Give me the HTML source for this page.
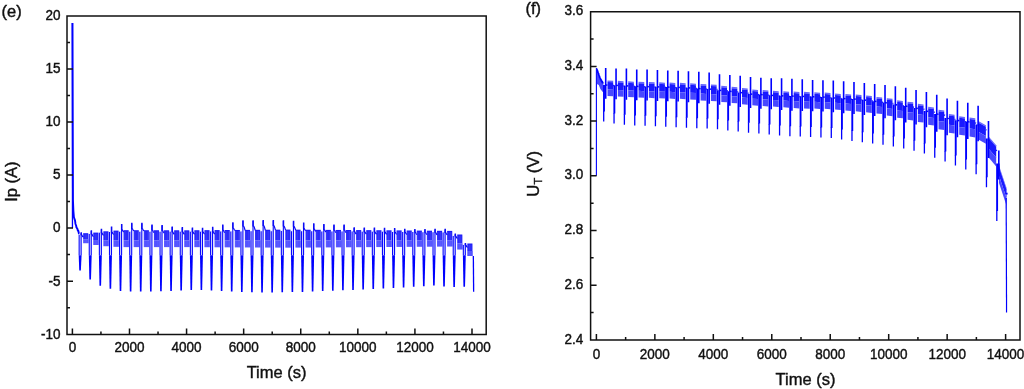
<!DOCTYPE html><html><head><meta charset="utf-8"><style>html,body{margin:0;padding:0;background:#fff;}svg{display:block;}text{font-family:"Liberation Sans",sans-serif;fill:#111;stroke:#111;stroke-width:0.4px;}</style></head><body>
<svg width="1024" height="389" viewBox="0 0 1024 389" style="will-change:transform">
<defs><clipPath id="cl"><rect x="67" y="15.95" width="419.2" height="318.45"/></clipPath>
<clipPath id="cr"><rect x="590.6" y="11.7" width="429.4" height="328.4"/></clipPath></defs>
<g clip-path="url(#cl)">
<path d="M72.45 228.1L72.45 23" fill="none" stroke="#0000ff" stroke-width="1.3" stroke-linejoin="round"/>
<path d="M72.45 23L72.95 200L73.4 211L73.9 217.3L75 220.4L75.5 224L76.1 225.5L76.5 227.5L77.3 228.6L77.8 230.5L78.3 230.7L78.9 233.5L79.4 233.8" fill="none" stroke="#0000ff" stroke-width="1.9" stroke-linejoin="round"/>
<rect x="83.15" y="233.2" width="5.1" height="6" fill="#1a1af8"/>
<rect x="83.15" y="239.2" width="5.4" height="4" fill="#4c4cff"/>
<path d="M83.85 234.2V239.2M85.25 234.2V239.2M86.65 234.2V239.2M88.05 234.2V239.2" stroke="#8080ff" stroke-width="0.3" fill="none"/>
<path d="M83.85 239.2V243.2M85.25 239.2V243.2M86.65 239.2V243.2M88.05 239.2V243.2" stroke="#8080ff" stroke-width="0.3" fill="none"/>
<rect x="79.15" y="234.2" width="2" height="20.95" fill="#e0e0ff"/>
<path d="M79.15 234.7L79.15 255.15" fill="none" stroke="#0808ff" stroke-width="1.1" stroke-linejoin="round"/>
<path d="M81.15 255.15L81.15 232.9" fill="none" stroke="#0808ff" stroke-width="1.1" stroke-linejoin="round"/>
<path d="M78.7 255.15L81.6 255.15L80.85 270.4L79.25 270.4Z" fill="#0000ff"/>
<path d="M81.25 232.2L81.25 235.2" fill="none" stroke="#0a0af4" stroke-width="1.5" stroke-linejoin="round"/>
<path d="M81.75 234.7L82.55 236.4L83.35 237.2" fill="none" stroke="#0a0af4" stroke-width="1.2" stroke-linejoin="round"/>
<rect x="93.26" y="232.6" width="5.1" height="7.44" fill="#1a1af8"/>
<rect x="93.26" y="240.04" width="5.4" height="4.96" fill="#4c4cff"/>
<path d="M93.96 233.6V240.04M95.36 233.6V240.04M96.76 233.6V240.04M98.16 233.6V240.04" stroke="#8080ff" stroke-width="0.3" fill="none"/>
<path d="M93.96 240.04V245M95.36 240.04V245M96.76 240.04V245M98.16 240.04V245" stroke="#8080ff" stroke-width="0.3" fill="none"/>
<rect x="89.26" y="233.6" width="2" height="21.55" fill="#e0e0ff"/>
<path d="M89.26 234.1L89.26 255.15" fill="none" stroke="#0808ff" stroke-width="1.1" stroke-linejoin="round"/>
<path d="M91.26 255.15L91.26 231" fill="none" stroke="#0808ff" stroke-width="1.1" stroke-linejoin="round"/>
<path d="M88.81 255.15L91.71 255.15L90.96 279.6L89.36 279.6Z" fill="#0000ff"/>
<path d="M91.36 230.3L91.36 234.6" fill="none" stroke="#0a0af4" stroke-width="1.5" stroke-linejoin="round"/>
<path d="M91.86 234.1L92.66 235.8L93.46 236.6" fill="none" stroke="#0a0af4" stroke-width="1.2" stroke-linejoin="round"/>
<rect x="103.37" y="231.3" width="5.1" height="8.94" fill="#1a1af8"/>
<rect x="103.37" y="240.24" width="5.4" height="5.96" fill="#4c4cff"/>
<path d="M104.07 232.3V240.24M105.47 232.3V240.24M106.87 232.3V240.24M108.27 232.3V240.24" stroke="#8080ff" stroke-width="0.3" fill="none"/>
<path d="M104.07 240.24V246.2M105.47 240.24V246.2M106.87 240.24V246.2M108.27 240.24V246.2" stroke="#8080ff" stroke-width="0.3" fill="none"/>
<rect x="99.37" y="232.3" width="2" height="22.85" fill="#e0e0ff"/>
<path d="M99.37 232.8L99.37 255.15" fill="none" stroke="#0808ff" stroke-width="1.1" stroke-linejoin="round"/>
<path d="M101.37 255.15L101.37 229.5" fill="none" stroke="#0808ff" stroke-width="1.1" stroke-linejoin="round"/>
<path d="M98.92 255.15L101.82 255.15L101.07 285.8L99.47 285.8Z" fill="#0000ff"/>
<path d="M101.47 228.8L101.47 233.3" fill="none" stroke="#0a0af4" stroke-width="1.5" stroke-linejoin="round"/>
<path d="M101.97 232.8L102.77 234.5L103.57 235.3" fill="none" stroke="#0a0af4" stroke-width="1.2" stroke-linejoin="round"/>
<rect x="113.48" y="230.6" width="5.1" height="9.72" fill="#1a1af8"/>
<rect x="113.48" y="240.32" width="5.4" height="6.48" fill="#4c4cff"/>
<path d="M114.18 231.6V240.32M115.58 231.6V240.32M116.98 231.6V240.32M118.38 231.6V240.32" stroke="#8080ff" stroke-width="0.3" fill="none"/>
<path d="M114.18 240.32V246.8M115.58 240.32V246.8M116.98 240.32V246.8M118.38 240.32V246.8" stroke="#8080ff" stroke-width="0.3" fill="none"/>
<rect x="109.48" y="231.6" width="2" height="23.55" fill="#e0e0ff"/>
<path d="M109.48 232.1L109.48 255.15" fill="none" stroke="#0808ff" stroke-width="1.1" stroke-linejoin="round"/>
<path d="M111.48 255.15L111.48 227.1" fill="none" stroke="#0808ff" stroke-width="1.1" stroke-linejoin="round"/>
<path d="M109.03 255.15L111.93 255.15L111.18 288.8L109.58 288.8Z" fill="#0000ff"/>
<path d="M111.58 226.4L111.58 232.5" fill="none" stroke="#0a0af4" stroke-width="1.5" stroke-linejoin="round"/>
<path d="M112.08 232L112.88 233.7L113.68 234.5" fill="none" stroke="#0a0af4" stroke-width="1.2" stroke-linejoin="round"/>
<rect x="123.59" y="230.2" width="5.1" height="10.14" fill="#1a1af8"/>
<rect x="123.59" y="240.34" width="5.4" height="6.76" fill="#4c4cff"/>
<path d="M124.29 231.2V240.34M125.69 231.2V240.34M127.09 231.2V240.34M128.49 231.2V240.34" stroke="#8080ff" stroke-width="0.3" fill="none"/>
<path d="M124.29 240.34V247.1M125.69 240.34V247.1M127.09 240.34V247.1M128.49 240.34V247.1" stroke="#8080ff" stroke-width="0.3" fill="none"/>
<rect x="119.59" y="231.2" width="2" height="23.95" fill="#e0e0ff"/>
<path d="M119.59 231.7L119.59 255.15" fill="none" stroke="#0808ff" stroke-width="1.1" stroke-linejoin="round"/>
<path d="M121.59 255.15L121.59 224.6" fill="none" stroke="#0808ff" stroke-width="1.1" stroke-linejoin="round"/>
<path d="M119.14 255.15L122.04 255.15L121.29 290.9L119.69 290.9Z" fill="#0000ff"/>
<path d="M121.69 223.9L121.69 230" fill="none" stroke="#0a0af4" stroke-width="1.5" stroke-linejoin="round"/>
<path d="M122.19 229.5L122.99 231.2L123.79 232" fill="none" stroke="#0a0af4" stroke-width="1.2" stroke-linejoin="round"/>
<rect x="133.7" y="230.22" width="5.1" height="10.13" fill="#1a1af8"/>
<rect x="133.7" y="240.35" width="5.4" height="6.75" fill="#4c4cff"/>
<path d="M134.4 231.22V240.35M135.8 231.22V240.35M137.2 231.22V240.35M138.6 231.22V240.35" stroke="#8080ff" stroke-width="0.3" fill="none"/>
<path d="M134.4 240.35V247.1M135.8 240.35V247.1M137.2 240.35V247.1M138.6 240.35V247.1" stroke="#8080ff" stroke-width="0.3" fill="none"/>
<rect x="129.7" y="231.22" width="2" height="23.93" fill="#e0e0ff"/>
<path d="M129.7 231.72L129.7 255.15" fill="none" stroke="#0808ff" stroke-width="1.1" stroke-linejoin="round"/>
<path d="M131.7 255.15L131.7 223.5" fill="none" stroke="#0808ff" stroke-width="1.1" stroke-linejoin="round"/>
<path d="M129.25 255.15L132.15 255.15L131.4 291.5L129.8 291.5Z" fill="#0000ff"/>
<path d="M131.8 222.8L131.8 228.9" fill="none" stroke="#0a0af4" stroke-width="1.5" stroke-linejoin="round"/>
<path d="M132.3 228.4L133.1 230.1L133.9 230.9" fill="none" stroke="#0a0af4" stroke-width="1.2" stroke-linejoin="round"/>
<rect x="143.81" y="230.23" width="5.1" height="10.12" fill="#1a1af8"/>
<rect x="143.81" y="240.35" width="5.4" height="6.75" fill="#4c4cff"/>
<path d="M144.51 231.23V240.35M145.91 231.23V240.35M147.31 231.23V240.35M148.71 231.23V240.35" stroke="#8080ff" stroke-width="0.3" fill="none"/>
<path d="M144.51 240.35V247.1M145.91 240.35V247.1M147.31 240.35V247.1M148.71 240.35V247.1" stroke="#8080ff" stroke-width="0.3" fill="none"/>
<rect x="139.81" y="231.23" width="2" height="23.91" fill="#e0e0ff"/>
<path d="M139.81 231.73L139.81 255.15" fill="none" stroke="#0808ff" stroke-width="1.1" stroke-linejoin="round"/>
<path d="M141.81 255.15L141.81 223.5" fill="none" stroke="#0808ff" stroke-width="1.1" stroke-linejoin="round"/>
<path d="M139.36 255.15L142.26 255.15L141.51 291.5L139.91 291.5Z" fill="#0000ff"/>
<path d="M141.91 222.8L141.91 228.9" fill="none" stroke="#0a0af4" stroke-width="1.5" stroke-linejoin="round"/>
<path d="M142.41 228.4L143.21 230.1L144.01 230.9" fill="none" stroke="#0a0af4" stroke-width="1.2" stroke-linejoin="round"/>
<rect x="153.92" y="230.25" width="5.1" height="10.11" fill="#1a1af8"/>
<rect x="153.92" y="240.36" width="5.4" height="6.74" fill="#4c4cff"/>
<path d="M154.62 231.25V240.36M156.02 231.25V240.36M157.42 231.25V240.36M158.82 231.25V240.36" stroke="#8080ff" stroke-width="0.3" fill="none"/>
<path d="M154.62 240.36V247.1M156.02 240.36V247.1M157.42 240.36V247.1M158.82 240.36V247.1" stroke="#8080ff" stroke-width="0.3" fill="none"/>
<rect x="149.92" y="231.25" width="2" height="23.9" fill="#e0e0ff"/>
<path d="M149.92 231.75L149.92 255.15" fill="none" stroke="#0808ff" stroke-width="1.1" stroke-linejoin="round"/>
<path d="M151.92 255.15L151.92 225.2" fill="none" stroke="#0808ff" stroke-width="1.1" stroke-linejoin="round"/>
<path d="M149.47 255.15L152.37 255.15L151.62 291.5L150.02 291.5Z" fill="#0000ff"/>
<path d="M152.02 224.5L152.02 230.6" fill="none" stroke="#0a0af4" stroke-width="1.5" stroke-linejoin="round"/>
<path d="M152.52 230.1L153.32 231.8L154.12 232.6" fill="none" stroke="#0a0af4" stroke-width="1.2" stroke-linejoin="round"/>
<rect x="164.03" y="230.27" width="5.1" height="10.1" fill="#1a1af8"/>
<rect x="164.03" y="240.37" width="5.4" height="6.73" fill="#4c4cff"/>
<path d="M164.73 231.27V240.37M166.13 231.27V240.37M167.53 231.27V240.37M168.93 231.27V240.37" stroke="#8080ff" stroke-width="0.3" fill="none"/>
<path d="M164.73 240.37V247.1M166.13 240.37V247.1M167.53 240.37V247.1M168.93 240.37V247.1" stroke="#8080ff" stroke-width="0.3" fill="none"/>
<rect x="160.03" y="231.27" width="2" height="23.88" fill="#e0e0ff"/>
<path d="M160.03 231.77L160.03 255.15" fill="none" stroke="#0808ff" stroke-width="1.1" stroke-linejoin="round"/>
<path d="M162.03 255.15L162.03 225.6" fill="none" stroke="#0808ff" stroke-width="1.1" stroke-linejoin="round"/>
<path d="M159.58 255.15L162.48 255.15L161.73 291.2L160.13 291.2Z" fill="#0000ff"/>
<path d="M162.13 224.9L162.13 231" fill="none" stroke="#0a0af4" stroke-width="1.5" stroke-linejoin="round"/>
<path d="M162.63 230.5L163.43 232.2L164.23 233" fill="none" stroke="#0a0af4" stroke-width="1.2" stroke-linejoin="round"/>
<rect x="174.14" y="230.28" width="5.1" height="10.09" fill="#1a1af8"/>
<rect x="174.14" y="240.37" width="5.4" height="6.73" fill="#4c4cff"/>
<path d="M174.84 231.28V240.37M176.24 231.28V240.37M177.64 231.28V240.37M179.04 231.28V240.37" stroke="#8080ff" stroke-width="0.3" fill="none"/>
<path d="M174.84 240.37V247.1M176.24 240.37V247.1M177.64 240.37V247.1M179.04 240.37V247.1" stroke="#8080ff" stroke-width="0.3" fill="none"/>
<rect x="170.14" y="231.28" width="2" height="23.86" fill="#e0e0ff"/>
<path d="M170.14 231.78L170.14 255.15" fill="none" stroke="#0808ff" stroke-width="1.1" stroke-linejoin="round"/>
<path d="M172.14 255.15L172.14 227.1" fill="none" stroke="#0808ff" stroke-width="1.1" stroke-linejoin="round"/>
<path d="M169.69 255.15L172.59 255.15L171.84 290.9L170.24 290.9Z" fill="#0000ff"/>
<path d="M172.24 226.4L172.24 232.28" fill="none" stroke="#0a0af4" stroke-width="1.5" stroke-linejoin="round"/>
<path d="M172.74 231.78L173.54 233.48L174.34 234.28" fill="none" stroke="#0a0af4" stroke-width="1.2" stroke-linejoin="round"/>
<rect x="184.25" y="230.3" width="5.1" height="10.08" fill="#1a1af8"/>
<rect x="184.25" y="240.38" width="5.4" height="6.72" fill="#4c4cff"/>
<path d="M184.95 231.3V240.38M186.35 231.3V240.38M187.75 231.3V240.38M189.15 231.3V240.38" stroke="#8080ff" stroke-width="0.3" fill="none"/>
<path d="M184.95 240.38V247.1M186.35 240.38V247.1M187.75 240.38V247.1M189.15 240.38V247.1" stroke="#8080ff" stroke-width="0.3" fill="none"/>
<rect x="180.25" y="231.3" width="2" height="23.85" fill="#e0e0ff"/>
<path d="M180.25 231.8L180.25 255.15" fill="none" stroke="#0808ff" stroke-width="1.1" stroke-linejoin="round"/>
<path d="M182.25 255.15L182.25 227.8" fill="none" stroke="#0808ff" stroke-width="1.1" stroke-linejoin="round"/>
<path d="M179.8 255.15L182.7 255.15L181.95 290.4L180.35 290.4Z" fill="#0000ff"/>
<path d="M182.35 227.1L182.35 232.3" fill="none" stroke="#0a0af4" stroke-width="1.5" stroke-linejoin="round"/>
<path d="M182.85 231.8L183.65 233.5L184.45 234.3" fill="none" stroke="#0a0af4" stroke-width="1.2" stroke-linejoin="round"/>
<rect x="194.36" y="230.23" width="5.1" height="10.15" fill="#1a1af8"/>
<rect x="194.36" y="240.38" width="5.4" height="6.77" fill="#4c4cff"/>
<path d="M195.06 231.23V240.38M196.46 231.23V240.38M197.86 231.23V240.38M199.26 231.23V240.38" stroke="#8080ff" stroke-width="0.3" fill="none"/>
<path d="M195.06 240.38V247.15M196.46 240.38V247.15M197.86 240.38V247.15M199.26 240.38V247.15" stroke="#8080ff" stroke-width="0.3" fill="none"/>
<rect x="190.36" y="231.23" width="2" height="23.92" fill="#e0e0ff"/>
<path d="M190.36 231.73L190.36 255.15" fill="none" stroke="#0808ff" stroke-width="1.1" stroke-linejoin="round"/>
<path d="M192.36 255.15L192.36 228.2" fill="none" stroke="#0808ff" stroke-width="1.1" stroke-linejoin="round"/>
<path d="M189.91 255.15L192.81 255.15L192.06 289.9L190.46 289.9Z" fill="#0000ff"/>
<path d="M192.46 227.5L192.46 232.23" fill="none" stroke="#0a0af4" stroke-width="1.5" stroke-linejoin="round"/>
<path d="M192.96 231.73L193.76 233.43L194.56 234.23" fill="none" stroke="#0a0af4" stroke-width="1.2" stroke-linejoin="round"/>
<rect x="204.47" y="230.16" width="5.1" height="10.22" fill="#1a1af8"/>
<rect x="204.47" y="240.38" width="5.4" height="6.82" fill="#4c4cff"/>
<path d="M205.17 231.16V240.38M206.57 231.16V240.38M207.97 231.16V240.38M209.37 231.16V240.38" stroke="#8080ff" stroke-width="0.3" fill="none"/>
<path d="M205.17 240.38V247.2M206.57 240.38V247.2M207.97 240.38V247.2M209.37 240.38V247.2" stroke="#8080ff" stroke-width="0.3" fill="none"/>
<rect x="200.47" y="231.16" width="2" height="23.99" fill="#e0e0ff"/>
<path d="M200.47 231.66L200.47 255.15" fill="none" stroke="#0808ff" stroke-width="1.1" stroke-linejoin="round"/>
<path d="M202.47 255.15L202.47 228.4" fill="none" stroke="#0808ff" stroke-width="1.1" stroke-linejoin="round"/>
<path d="M200.02 255.15L202.92 255.15L202.17 289.9L200.57 289.9Z" fill="#0000ff"/>
<path d="M202.57 227.7L202.57 232.16" fill="none" stroke="#0a0af4" stroke-width="1.5" stroke-linejoin="round"/>
<path d="M203.07 231.66L203.87 233.36L204.67 234.16" fill="none" stroke="#0a0af4" stroke-width="1.2" stroke-linejoin="round"/>
<rect x="214.58" y="230.09" width="5.1" height="10.3" fill="#1a1af8"/>
<rect x="214.58" y="240.39" width="5.4" height="6.86" fill="#4c4cff"/>
<path d="M215.28 231.09V240.39M216.68 231.09V240.39M218.08 231.09V240.39M219.48 231.09V240.39" stroke="#8080ff" stroke-width="0.3" fill="none"/>
<path d="M215.28 240.39V247.25M216.68 240.39V247.25M218.08 240.39V247.25M219.48 240.39V247.25" stroke="#8080ff" stroke-width="0.3" fill="none"/>
<rect x="210.58" y="231.09" width="2" height="24.06" fill="#e0e0ff"/>
<path d="M210.58 231.59L210.58 255.15" fill="none" stroke="#0808ff" stroke-width="1.1" stroke-linejoin="round"/>
<path d="M212.58 255.15L212.58 227.4" fill="none" stroke="#0808ff" stroke-width="1.1" stroke-linejoin="round"/>
<path d="M210.13 255.15L213.03 255.15L212.28 290.4L210.68 290.4Z" fill="#0000ff"/>
<path d="M212.68 226.7L212.68 232.09" fill="none" stroke="#0a0af4" stroke-width="1.5" stroke-linejoin="round"/>
<path d="M213.18 231.59L213.98 233.29L214.78 234.09" fill="none" stroke="#0a0af4" stroke-width="1.2" stroke-linejoin="round"/>
<rect x="224.69" y="230.02" width="5.1" height="10.37" fill="#1a1af8"/>
<rect x="224.69" y="240.39" width="5.4" height="6.91" fill="#4c4cff"/>
<path d="M225.39 231.02V240.39M226.79 231.02V240.39M228.19 231.02V240.39M229.59 231.02V240.39" stroke="#8080ff" stroke-width="0.3" fill="none"/>
<path d="M225.39 240.39V247.3M226.79 240.39V247.3M228.19 240.39V247.3M229.59 240.39V247.3" stroke="#8080ff" stroke-width="0.3" fill="none"/>
<rect x="220.69" y="231.02" width="2" height="24.13" fill="#e0e0ff"/>
<path d="M220.69 231.52L220.69 255.15" fill="none" stroke="#0808ff" stroke-width="1.1" stroke-linejoin="round"/>
<path d="M222.69 255.15L222.69 225.2" fill="none" stroke="#0808ff" stroke-width="1.1" stroke-linejoin="round"/>
<path d="M220.24 255.15L223.14 255.15L222.39 290.9L220.79 290.9Z" fill="#0000ff"/>
<path d="M222.79 224.5L222.79 230.6" fill="none" stroke="#0a0af4" stroke-width="1.5" stroke-linejoin="round"/>
<path d="M223.29 230.1L224.09 231.8L224.89 232.6" fill="none" stroke="#0a0af4" stroke-width="1.2" stroke-linejoin="round"/>
<rect x="234.8" y="229.95" width="5.1" height="10.44" fill="#1a1af8"/>
<rect x="234.8" y="240.39" width="5.4" height="6.96" fill="#4c4cff"/>
<path d="M235.5 230.95V240.39M236.9 230.95V240.39M238.3 230.95V240.39M239.7 230.95V240.39" stroke="#8080ff" stroke-width="0.3" fill="none"/>
<path d="M235.5 240.39V247.35M236.9 240.39V247.35M238.3 240.39V247.35M239.7 240.39V247.35" stroke="#8080ff" stroke-width="0.3" fill="none"/>
<rect x="230.8" y="230.95" width="2" height="24.2" fill="#e0e0ff"/>
<path d="M230.8 231.45L230.8 255.15" fill="none" stroke="#0808ff" stroke-width="1.1" stroke-linejoin="round"/>
<path d="M232.8 255.15L232.8 223" fill="none" stroke="#0808ff" stroke-width="1.1" stroke-linejoin="round"/>
<path d="M230.35 255.15L233.25 255.15L232.5 291.4L230.9 291.4Z" fill="#0000ff"/>
<path d="M232.9 222.3L232.9 228.4" fill="none" stroke="#0a0af4" stroke-width="1.5" stroke-linejoin="round"/>
<path d="M233.4 227.9L234.2 229.6L235 230.45" fill="none" stroke="#0a0af4" stroke-width="1.2" stroke-linejoin="round"/>
<rect x="244.91" y="229.88" width="5.1" height="10.51" fill="#1a1af8"/>
<rect x="244.91" y="240.39" width="5.4" height="7.01" fill="#4c4cff"/>
<path d="M245.61 230.88V240.39M247.01 230.88V240.39M248.41 230.88V240.39M249.81 230.88V240.39" stroke="#8080ff" stroke-width="0.3" fill="none"/>
<path d="M245.61 240.39V247.4M247.01 240.39V247.4M248.41 240.39V247.4M249.81 240.39V247.4" stroke="#8080ff" stroke-width="0.3" fill="none"/>
<rect x="240.91" y="230.88" width="2" height="24.27" fill="#e0e0ff"/>
<path d="M240.91 231.38L240.91 255.15" fill="none" stroke="#0808ff" stroke-width="1.1" stroke-linejoin="round"/>
<path d="M242.91 255.15L242.91 221" fill="none" stroke="#0808ff" stroke-width="1.1" stroke-linejoin="round"/>
<path d="M240.46 255.15L243.36 255.15L242.61 291.9L241.01 291.9Z" fill="#0000ff"/>
<path d="M243.01 220.3L243.01 226.4" fill="none" stroke="#0a0af4" stroke-width="1.5" stroke-linejoin="round"/>
<path d="M243.51 225.9L244.31 227.6L245.11 230.38" fill="none" stroke="#0a0af4" stroke-width="1.2" stroke-linejoin="round"/>
<rect x="255.02" y="229.81" width="5.1" height="10.58" fill="#1a1af8"/>
<rect x="255.02" y="240.39" width="5.4" height="7.06" fill="#4c4cff"/>
<path d="M255.72 230.81V240.39M257.12 230.81V240.39M258.52 230.81V240.39M259.92 230.81V240.39" stroke="#8080ff" stroke-width="0.3" fill="none"/>
<path d="M255.72 240.39V247.45M257.12 240.39V247.45M258.52 240.39V247.45M259.92 240.39V247.45" stroke="#8080ff" stroke-width="0.3" fill="none"/>
<rect x="251.02" y="230.81" width="2" height="24.34" fill="#e0e0ff"/>
<path d="M251.02 231.31L251.02 255.15" fill="none" stroke="#0808ff" stroke-width="1.1" stroke-linejoin="round"/>
<path d="M253.02 255.15L253.02 221" fill="none" stroke="#0808ff" stroke-width="1.1" stroke-linejoin="round"/>
<path d="M250.57 255.15L253.47 255.15L252.72 292.25L251.12 292.25Z" fill="#0000ff"/>
<path d="M253.12 220.3L253.12 226.4" fill="none" stroke="#0a0af4" stroke-width="1.5" stroke-linejoin="round"/>
<path d="M253.62 225.9L254.42 227.6L255.22 230.31" fill="none" stroke="#0a0af4" stroke-width="1.2" stroke-linejoin="round"/>
<rect x="265.13" y="229.74" width="5.1" height="10.66" fill="#1a1af8"/>
<rect x="265.13" y="240.4" width="5.4" height="7.1" fill="#4c4cff"/>
<path d="M265.83 230.74V240.4M267.23 230.74V240.4M268.63 230.74V240.4M270.03 230.74V240.4" stroke="#8080ff" stroke-width="0.3" fill="none"/>
<path d="M265.83 240.4V247.5M267.23 240.4V247.5M268.63 240.4V247.5M270.03 240.4V247.5" stroke="#8080ff" stroke-width="0.3" fill="none"/>
<rect x="261.13" y="230.74" width="2" height="24.41" fill="#e0e0ff"/>
<path d="M261.13 231.24L261.13 255.15" fill="none" stroke="#0808ff" stroke-width="1.1" stroke-linejoin="round"/>
<path d="M263.13 255.15L263.13 220.7" fill="none" stroke="#0808ff" stroke-width="1.1" stroke-linejoin="round"/>
<path d="M260.68 255.15L263.58 255.15L262.83 292.6L261.23 292.6Z" fill="#0000ff"/>
<path d="M263.23 220L263.23 226.1" fill="none" stroke="#0a0af4" stroke-width="1.5" stroke-linejoin="round"/>
<path d="M263.73 225.6L264.53 227.3L265.33 230.24" fill="none" stroke="#0a0af4" stroke-width="1.2" stroke-linejoin="round"/>
<rect x="275.24" y="229.67" width="5.1" height="10.73" fill="#1a1af8"/>
<rect x="275.24" y="240.4" width="5.4" height="7.15" fill="#4c4cff"/>
<path d="M275.94 230.67V240.4M277.34 230.67V240.4M278.74 230.67V240.4M280.14 230.67V240.4" stroke="#8080ff" stroke-width="0.3" fill="none"/>
<path d="M275.94 240.4V247.55M277.34 240.4V247.55M278.74 240.4V247.55M280.14 240.4V247.55" stroke="#8080ff" stroke-width="0.3" fill="none"/>
<rect x="271.24" y="230.67" width="2" height="24.48" fill="#e0e0ff"/>
<path d="M271.24 231.17L271.24 255.15" fill="none" stroke="#0808ff" stroke-width="1.1" stroke-linejoin="round"/>
<path d="M273.24 255.15L273.24 220.7" fill="none" stroke="#0808ff" stroke-width="1.1" stroke-linejoin="round"/>
<path d="M270.79 255.15L273.69 255.15L272.94 292.45L271.34 292.45Z" fill="#0000ff"/>
<path d="M273.34 220L273.34 226.1" fill="none" stroke="#0a0af4" stroke-width="1.5" stroke-linejoin="round"/>
<path d="M273.84 225.6L274.64 227.3L275.44 230.17" fill="none" stroke="#0a0af4" stroke-width="1.2" stroke-linejoin="round"/>
<rect x="285.35" y="229.6" width="5.1" height="10.8" fill="#1a1af8"/>
<rect x="285.35" y="240.4" width="5.4" height="7.2" fill="#4c4cff"/>
<path d="M286.05 230.6V240.4M287.45 230.6V240.4M288.85 230.6V240.4M290.25 230.6V240.4" stroke="#8080ff" stroke-width="0.3" fill="none"/>
<path d="M286.05 240.4V247.6M287.45 240.4V247.6M288.85 240.4V247.6M290.25 240.4V247.6" stroke="#8080ff" stroke-width="0.3" fill="none"/>
<rect x="281.35" y="230.6" width="2" height="24.55" fill="#e0e0ff"/>
<path d="M281.35 231.1L281.35 255.15" fill="none" stroke="#0808ff" stroke-width="1.1" stroke-linejoin="round"/>
<path d="M283.35 255.15L283.35 221" fill="none" stroke="#0808ff" stroke-width="1.1" stroke-linejoin="round"/>
<path d="M280.9 255.15L283.8 255.15L283.05 292.3L281.45 292.3Z" fill="#0000ff"/>
<path d="M283.45 220.3L283.45 226.4" fill="none" stroke="#0a0af4" stroke-width="1.5" stroke-linejoin="round"/>
<path d="M283.95 225.9L284.75 227.6L285.55 230.1" fill="none" stroke="#0a0af4" stroke-width="1.2" stroke-linejoin="round"/>
<rect x="295.46" y="229.67" width="5.1" height="10.72" fill="#1a1af8"/>
<rect x="295.46" y="240.39" width="5.4" height="7.15" fill="#4c4cff"/>
<path d="M296.16 230.67V240.39M297.56 230.67V240.39M298.96 230.67V240.39M300.36 230.67V240.39" stroke="#8080ff" stroke-width="0.3" fill="none"/>
<path d="M296.16 240.39V247.54M297.56 240.39V247.54M298.96 240.39V247.54M300.36 240.39V247.54" stroke="#8080ff" stroke-width="0.3" fill="none"/>
<rect x="291.46" y="230.67" width="2" height="24.48" fill="#e0e0ff"/>
<path d="M291.46 231.17L291.46 255.15" fill="none" stroke="#0808ff" stroke-width="1.1" stroke-linejoin="round"/>
<path d="M293.46 255.15L293.46 221.4" fill="none" stroke="#0808ff" stroke-width="1.1" stroke-linejoin="round"/>
<path d="M291.01 255.15L293.91 255.15L293.16 292.1L291.56 292.1Z" fill="#0000ff"/>
<path d="M293.56 220.7L293.56 226.8" fill="none" stroke="#0a0af4" stroke-width="1.5" stroke-linejoin="round"/>
<path d="M294.06 226.3L294.86 228L295.66 230.17" fill="none" stroke="#0a0af4" stroke-width="1.2" stroke-linejoin="round"/>
<rect x="305.57" y="229.74" width="5.1" height="10.64" fill="#1a1af8"/>
<rect x="305.57" y="240.38" width="5.4" height="7.1" fill="#4c4cff"/>
<path d="M306.27 230.74V240.38M307.67 230.74V240.38M309.07 230.74V240.38M310.47 230.74V240.38" stroke="#8080ff" stroke-width="0.3" fill="none"/>
<path d="M306.27 240.38V247.48M307.67 240.38V247.48M309.07 240.38V247.48M310.47 240.38V247.48" stroke="#8080ff" stroke-width="0.3" fill="none"/>
<rect x="301.57" y="230.74" width="2" height="24.41" fill="#e0e0ff"/>
<path d="M301.57 231.24L301.57 255.15" fill="none" stroke="#0808ff" stroke-width="1.1" stroke-linejoin="round"/>
<path d="M303.57 255.15L303.57 223.3" fill="none" stroke="#0808ff" stroke-width="1.1" stroke-linejoin="round"/>
<path d="M301.12 255.15L304.02 255.15L303.27 291.9L301.67 291.9Z" fill="#0000ff"/>
<path d="M303.67 222.6L303.67 228.7" fill="none" stroke="#0a0af4" stroke-width="1.5" stroke-linejoin="round"/>
<path d="M304.17 228.2L304.97 229.9L305.77 230.7" fill="none" stroke="#0a0af4" stroke-width="1.2" stroke-linejoin="round"/>
<rect x="315.68" y="229.81" width="5.1" height="10.57" fill="#1a1af8"/>
<rect x="315.68" y="240.38" width="5.4" height="7.04" fill="#4c4cff"/>
<path d="M316.38 230.81V240.38M317.78 230.81V240.38M319.18 230.81V240.38M320.58 230.81V240.38" stroke="#8080ff" stroke-width="0.3" fill="none"/>
<path d="M316.38 240.38V247.42M317.78 240.38V247.42M319.18 240.38V247.42M320.58 240.38V247.42" stroke="#8080ff" stroke-width="0.3" fill="none"/>
<rect x="311.68" y="230.81" width="2" height="24.34" fill="#e0e0ff"/>
<path d="M311.68 231.31L311.68 255.15" fill="none" stroke="#0808ff" stroke-width="1.1" stroke-linejoin="round"/>
<path d="M313.68 255.15L313.68 223.9" fill="none" stroke="#0808ff" stroke-width="1.1" stroke-linejoin="round"/>
<path d="M311.23 255.15L314.13 255.15L313.38 291.5L311.78 291.5Z" fill="#0000ff"/>
<path d="M313.78 223.2L313.78 229.3" fill="none" stroke="#0a0af4" stroke-width="1.5" stroke-linejoin="round"/>
<path d="M314.28 228.8L315.08 230.5L315.88 231.3" fill="none" stroke="#0a0af4" stroke-width="1.2" stroke-linejoin="round"/>
<rect x="325.79" y="229.88" width="5.1" height="10.49" fill="#1a1af8"/>
<rect x="325.79" y="240.37" width="5.4" height="6.99" fill="#4c4cff"/>
<path d="M326.49 230.88V240.37M327.89 230.88V240.37M329.29 230.88V240.37M330.69 230.88V240.37" stroke="#8080ff" stroke-width="0.3" fill="none"/>
<path d="M326.49 240.37V247.36M327.89 240.37V247.36M329.29 240.37V247.36M330.69 240.37V247.36" stroke="#8080ff" stroke-width="0.3" fill="none"/>
<rect x="321.79" y="230.88" width="2" height="24.27" fill="#e0e0ff"/>
<path d="M321.79 231.38L321.79 255.15" fill="none" stroke="#0808ff" stroke-width="1.1" stroke-linejoin="round"/>
<path d="M323.79 255.15L323.79 224.6" fill="none" stroke="#0808ff" stroke-width="1.1" stroke-linejoin="round"/>
<path d="M321.34 255.15L324.24 255.15L323.49 291.1L321.89 291.1Z" fill="#0000ff"/>
<path d="M323.89 223.9L323.89 230" fill="none" stroke="#0a0af4" stroke-width="1.5" stroke-linejoin="round"/>
<path d="M324.39 229.5L325.19 231.2L325.99 232" fill="none" stroke="#0a0af4" stroke-width="1.2" stroke-linejoin="round"/>
<rect x="335.9" y="229.95" width="5.1" height="10.41" fill="#1a1af8"/>
<rect x="335.9" y="240.36" width="5.4" height="6.94" fill="#4c4cff"/>
<path d="M336.6 230.95V240.36M338 230.95V240.36M339.4 230.95V240.36M340.8 230.95V240.36" stroke="#8080ff" stroke-width="0.3" fill="none"/>
<path d="M336.6 240.36V247.3M338 240.36V247.3M339.4 240.36V247.3M340.8 240.36V247.3" stroke="#8080ff" stroke-width="0.3" fill="none"/>
<rect x="331.9" y="230.95" width="2" height="24.2" fill="#e0e0ff"/>
<path d="M331.9 231.45L331.9 255.15" fill="none" stroke="#0808ff" stroke-width="1.1" stroke-linejoin="round"/>
<path d="M333.9 255.15L333.9 225.2" fill="none" stroke="#0808ff" stroke-width="1.1" stroke-linejoin="round"/>
<path d="M331.45 255.15L334.35 255.15L333.6 290.7L332 290.7Z" fill="#0000ff"/>
<path d="M334 224.5L334 230.6" fill="none" stroke="#0a0af4" stroke-width="1.5" stroke-linejoin="round"/>
<path d="M334.5 230.1L335.3 231.8L336.1 232.6" fill="none" stroke="#0a0af4" stroke-width="1.2" stroke-linejoin="round"/>
<rect x="346.01" y="230.02" width="5.1" height="10.33" fill="#1a1af8"/>
<rect x="346.01" y="240.35" width="5.4" height="6.89" fill="#4c4cff"/>
<path d="M346.71 231.02V240.35M348.11 231.02V240.35M349.51 231.02V240.35M350.91 231.02V240.35" stroke="#8080ff" stroke-width="0.3" fill="none"/>
<path d="M346.71 240.35V247.24M348.11 240.35V247.24M349.51 240.35V247.24M350.91 240.35V247.24" stroke="#8080ff" stroke-width="0.3" fill="none"/>
<rect x="342.01" y="231.02" width="2" height="24.13" fill="#e0e0ff"/>
<path d="M342.01 231.52L342.01 255.15" fill="none" stroke="#0808ff" stroke-width="1.1" stroke-linejoin="round"/>
<path d="M344.01 255.15L344.01 225.2" fill="none" stroke="#0808ff" stroke-width="1.1" stroke-linejoin="round"/>
<path d="M341.56 255.15L344.46 255.15L343.71 290.3L342.11 290.3Z" fill="#0000ff"/>
<path d="M344.11 224.5L344.11 230.6" fill="none" stroke="#0a0af4" stroke-width="1.5" stroke-linejoin="round"/>
<path d="M344.61 230.1L345.41 231.8L346.21 232.6" fill="none" stroke="#0a0af4" stroke-width="1.2" stroke-linejoin="round"/>
<rect x="356.12" y="230.09" width="5.1" height="10.25" fill="#1a1af8"/>
<rect x="356.12" y="240.34" width="5.4" height="6.84" fill="#4c4cff"/>
<path d="M356.82 231.09V240.34M358.22 231.09V240.34M359.62 231.09V240.34M361.02 231.09V240.34" stroke="#8080ff" stroke-width="0.3" fill="none"/>
<path d="M356.82 240.34V247.18M358.22 240.34V247.18M359.62 240.34V247.18M361.02 240.34V247.18" stroke="#8080ff" stroke-width="0.3" fill="none"/>
<rect x="352.12" y="231.09" width="2" height="24.06" fill="#e0e0ff"/>
<path d="M352.12 231.59L352.12 255.15" fill="none" stroke="#0808ff" stroke-width="1.1" stroke-linejoin="round"/>
<path d="M354.12 255.15L354.12 228" fill="none" stroke="#0808ff" stroke-width="1.1" stroke-linejoin="round"/>
<path d="M351.67 255.15L354.57 255.15L353.82 289.9L352.22 289.9Z" fill="#0000ff"/>
<path d="M354.22 227.3L354.22 232.09" fill="none" stroke="#0a0af4" stroke-width="1.5" stroke-linejoin="round"/>
<path d="M354.72 231.59L355.52 233.29L356.32 234.09" fill="none" stroke="#0a0af4" stroke-width="1.2" stroke-linejoin="round"/>
<rect x="366.23" y="230.16" width="5.1" height="10.18" fill="#1a1af8"/>
<rect x="366.23" y="240.34" width="5.4" height="6.78" fill="#4c4cff"/>
<path d="M366.93 231.16V240.34M368.33 231.16V240.34M369.73 231.16V240.34M371.13 231.16V240.34" stroke="#8080ff" stroke-width="0.3" fill="none"/>
<path d="M366.93 240.34V247.12M368.33 240.34V247.12M369.73 240.34V247.12M371.13 240.34V247.12" stroke="#8080ff" stroke-width="0.3" fill="none"/>
<rect x="362.23" y="231.16" width="2" height="23.99" fill="#e0e0ff"/>
<path d="M362.23 231.66L362.23 255.15" fill="none" stroke="#0808ff" stroke-width="1.1" stroke-linejoin="round"/>
<path d="M364.23 255.15L364.23 228.2" fill="none" stroke="#0808ff" stroke-width="1.1" stroke-linejoin="round"/>
<path d="M361.78 255.15L364.68 255.15L363.93 289.5L362.33 289.5Z" fill="#0000ff"/>
<path d="M364.33 227.5L364.33 232.16" fill="none" stroke="#0a0af4" stroke-width="1.5" stroke-linejoin="round"/>
<path d="M364.83 231.66L365.63 233.36L366.43 234.16" fill="none" stroke="#0a0af4" stroke-width="1.2" stroke-linejoin="round"/>
<rect x="376.34" y="230.23" width="5.1" height="10.1" fill="#1a1af8"/>
<rect x="376.34" y="240.33" width="5.4" height="6.73" fill="#4c4cff"/>
<path d="M377.04 231.23V240.33M378.44 231.23V240.33M379.84 231.23V240.33M381.24 231.23V240.33" stroke="#8080ff" stroke-width="0.3" fill="none"/>
<path d="M377.04 240.33V247.06M378.44 240.33V247.06M379.84 240.33V247.06M381.24 240.33V247.06" stroke="#8080ff" stroke-width="0.3" fill="none"/>
<rect x="372.34" y="231.23" width="2" height="23.92" fill="#e0e0ff"/>
<path d="M372.34 231.73L372.34 255.15" fill="none" stroke="#0808ff" stroke-width="1.1" stroke-linejoin="round"/>
<path d="M374.34 255.15L374.34 228.2" fill="none" stroke="#0808ff" stroke-width="1.1" stroke-linejoin="round"/>
<path d="M371.89 255.15L374.79 255.15L374.04 288.95L372.44 288.95Z" fill="#0000ff"/>
<path d="M374.44 227.5L374.44 232.23" fill="none" stroke="#0a0af4" stroke-width="1.5" stroke-linejoin="round"/>
<path d="M374.94 231.73L375.74 233.43L376.54 234.23" fill="none" stroke="#0a0af4" stroke-width="1.2" stroke-linejoin="round"/>
<rect x="386.45" y="230.3" width="5.1" height="10.02" fill="#1a1af8"/>
<rect x="386.45" y="240.32" width="5.4" height="6.68" fill="#4c4cff"/>
<path d="M387.15 231.3V240.32M388.55 231.3V240.32M389.95 231.3V240.32M391.35 231.3V240.32" stroke="#8080ff" stroke-width="0.3" fill="none"/>
<path d="M387.15 240.32V247M388.55 240.32V247M389.95 240.32V247M391.35 240.32V247" stroke="#8080ff" stroke-width="0.3" fill="none"/>
<rect x="382.45" y="231.3" width="2" height="23.85" fill="#e0e0ff"/>
<path d="M382.45 231.8L382.45 255.15" fill="none" stroke="#0808ff" stroke-width="1.1" stroke-linejoin="round"/>
<path d="M384.45 255.15L384.45 228.4" fill="none" stroke="#0808ff" stroke-width="1.1" stroke-linejoin="round"/>
<path d="M382 255.15L384.9 255.15L384.15 288.4L382.55 288.4Z" fill="#0000ff"/>
<path d="M384.55 227.7L384.55 232.3" fill="none" stroke="#0a0af4" stroke-width="1.5" stroke-linejoin="round"/>
<path d="M385.05 231.8L385.85 233.5L386.65 234.3" fill="none" stroke="#0a0af4" stroke-width="1.2" stroke-linejoin="round"/>
<rect x="396.56" y="230.4" width="5.1" height="9.91" fill="#1a1af8"/>
<rect x="396.56" y="240.31" width="5.4" height="6.61" fill="#4c4cff"/>
<path d="M397.26 231.4V240.31M398.66 231.4V240.31M400.06 231.4V240.31M401.46 231.4V240.31" stroke="#8080ff" stroke-width="0.3" fill="none"/>
<path d="M397.26 240.31V246.92M398.66 240.31V246.92M400.06 240.31V246.92M401.46 240.31V246.92" stroke="#8080ff" stroke-width="0.3" fill="none"/>
<rect x="392.56" y="231.4" width="2" height="23.75" fill="#e0e0ff"/>
<path d="M392.56 231.9L392.56 255.15" fill="none" stroke="#0808ff" stroke-width="1.1" stroke-linejoin="round"/>
<path d="M394.56 255.15L394.56 228.7" fill="none" stroke="#0808ff" stroke-width="1.1" stroke-linejoin="round"/>
<path d="M392.11 255.15L395.01 255.15L394.26 287.9L392.66 287.9Z" fill="#0000ff"/>
<path d="M394.66 228L394.66 232.4" fill="none" stroke="#0a0af4" stroke-width="1.5" stroke-linejoin="round"/>
<path d="M395.16 231.9L395.96 233.6L396.76 234.4" fill="none" stroke="#0a0af4" stroke-width="1.2" stroke-linejoin="round"/>
<rect x="406.67" y="230.5" width="5.1" height="9.8" fill="#1a1af8"/>
<rect x="406.67" y="240.3" width="5.4" height="6.53" fill="#4c4cff"/>
<path d="M407.37 231.5V240.3M408.77 231.5V240.3M410.17 231.5V240.3M411.57 231.5V240.3" stroke="#8080ff" stroke-width="0.3" fill="none"/>
<path d="M407.37 240.3V246.83M408.77 240.3V246.83M410.17 240.3V246.83M411.57 240.3V246.83" stroke="#8080ff" stroke-width="0.3" fill="none"/>
<rect x="402.67" y="231.5" width="2" height="23.65" fill="#e0e0ff"/>
<path d="M402.67 232L402.67 255.15" fill="none" stroke="#0808ff" stroke-width="1.1" stroke-linejoin="round"/>
<path d="M404.67 255.15L404.67 229.5" fill="none" stroke="#0808ff" stroke-width="1.1" stroke-linejoin="round"/>
<path d="M402.22 255.15L405.12 255.15L404.37 287.4L402.77 287.4Z" fill="#0000ff"/>
<path d="M404.77 228.8L404.77 232.5" fill="none" stroke="#0a0af4" stroke-width="1.5" stroke-linejoin="round"/>
<path d="M405.27 232L406.07 233.7L406.87 234.5" fill="none" stroke="#0a0af4" stroke-width="1.2" stroke-linejoin="round"/>
<rect x="416.78" y="230.6" width="5.1" height="9.69" fill="#1a1af8"/>
<rect x="416.78" y="240.29" width="5.4" height="6.46" fill="#4c4cff"/>
<path d="M417.48 231.6V240.29M418.88 231.6V240.29M420.28 231.6V240.29M421.68 231.6V240.29" stroke="#8080ff" stroke-width="0.3" fill="none"/>
<path d="M417.48 240.29V246.75M418.88 240.29V246.75M420.28 240.29V246.75M421.68 240.29V246.75" stroke="#8080ff" stroke-width="0.3" fill="none"/>
<rect x="412.78" y="231.6" width="2" height="23.55" fill="#e0e0ff"/>
<path d="M412.78 232.1L412.78 255.15" fill="none" stroke="#0808ff" stroke-width="1.1" stroke-linejoin="round"/>
<path d="M414.78 255.15L414.78 229.7" fill="none" stroke="#0808ff" stroke-width="1.1" stroke-linejoin="round"/>
<path d="M412.33 255.15L415.23 255.15L414.48 286.85L412.88 286.85Z" fill="#0000ff"/>
<path d="M414.88 229L414.88 232.6" fill="none" stroke="#0a0af4" stroke-width="1.5" stroke-linejoin="round"/>
<path d="M415.38 232.1L416.18 233.8L416.98 234.6" fill="none" stroke="#0a0af4" stroke-width="1.2" stroke-linejoin="round"/>
<rect x="426.89" y="230.7" width="5.1" height="9.58" fill="#1a1af8"/>
<rect x="426.89" y="240.28" width="5.4" height="6.39" fill="#4c4cff"/>
<path d="M427.59 231.7V240.28M428.99 231.7V240.28M430.39 231.7V240.28M431.79 231.7V240.28" stroke="#8080ff" stroke-width="0.3" fill="none"/>
<path d="M427.59 240.28V246.67M428.99 240.28V246.67M430.39 240.28V246.67M431.79 240.28V246.67" stroke="#8080ff" stroke-width="0.3" fill="none"/>
<rect x="422.89" y="231.7" width="2" height="23.45" fill="#e0e0ff"/>
<path d="M422.89 232.2L422.89 255.15" fill="none" stroke="#0808ff" stroke-width="1.1" stroke-linejoin="round"/>
<path d="M424.89 255.15L424.89 229.7" fill="none" stroke="#0808ff" stroke-width="1.1" stroke-linejoin="round"/>
<path d="M422.44 255.15L425.34 255.15L424.59 286.3L422.99 286.3Z" fill="#0000ff"/>
<path d="M424.99 229L424.99 232.7" fill="none" stroke="#0a0af4" stroke-width="1.5" stroke-linejoin="round"/>
<path d="M425.49 232.2L426.29 233.9L427.09 234.7" fill="none" stroke="#0a0af4" stroke-width="1.2" stroke-linejoin="round"/>
<rect x="437" y="230.8" width="5.1" height="9.47" fill="#1a1af8"/>
<rect x="437" y="240.27" width="5.4" height="6.31" fill="#4c4cff"/>
<path d="M437.7 231.8V240.27M439.1 231.8V240.27M440.5 231.8V240.27M441.9 231.8V240.27" stroke="#8080ff" stroke-width="0.3" fill="none"/>
<path d="M437.7 240.27V246.58M439.1 240.27V246.58M440.5 240.27V246.58M441.9 240.27V246.58" stroke="#8080ff" stroke-width="0.3" fill="none"/>
<rect x="433" y="231.8" width="2" height="23.35" fill="#e0e0ff"/>
<path d="M433 232.3L433 255.15" fill="none" stroke="#0808ff" stroke-width="1.1" stroke-linejoin="round"/>
<path d="M435 255.15L435 229.5" fill="none" stroke="#0808ff" stroke-width="1.1" stroke-linejoin="round"/>
<path d="M432.55 255.15L435.45 255.15L434.7 285.5L433.1 285.5Z" fill="#0000ff"/>
<path d="M435.1 228.8L435.1 232.8" fill="none" stroke="#0a0af4" stroke-width="1.5" stroke-linejoin="round"/>
<path d="M435.6 232.3L436.4 234L437.2 234.8" fill="none" stroke="#0a0af4" stroke-width="1.2" stroke-linejoin="round"/>
<rect x="447.11" y="230.9" width="5.1" height="9.36" fill="#1a1af8"/>
<rect x="447.11" y="240.26" width="5.4" height="6.24" fill="#4c4cff"/>
<path d="M447.81 231.9V240.26M449.21 231.9V240.26M450.61 231.9V240.26M452.01 231.9V240.26" stroke="#8080ff" stroke-width="0.3" fill="none"/>
<path d="M447.81 240.26V246.5M449.21 240.26V246.5M450.61 240.26V246.5M452.01 240.26V246.5" stroke="#8080ff" stroke-width="0.3" fill="none"/>
<rect x="443.11" y="231.9" width="2" height="23.25" fill="#e0e0ff"/>
<path d="M443.11 232.4L443.11 255.15" fill="none" stroke="#0808ff" stroke-width="1.1" stroke-linejoin="round"/>
<path d="M445.11 255.15L445.11 229.5" fill="none" stroke="#0808ff" stroke-width="1.1" stroke-linejoin="round"/>
<path d="M442.66 255.15L445.56 255.15L444.81 286.5L443.21 286.5Z" fill="#0000ff"/>
<path d="M445.21 228.8L445.21 232.9" fill="none" stroke="#0a0af4" stroke-width="1.5" stroke-linejoin="round"/>
<path d="M445.71 232.4L446.51 234.1L447.31 234.9" fill="none" stroke="#0a0af4" stroke-width="1.2" stroke-linejoin="round"/>
<rect x="457.22" y="234.5" width="5.1" height="9" fill="#1a1af8"/>
<rect x="457.22" y="243.5" width="5.4" height="6" fill="#4c4cff"/>
<path d="M457.92 235.5V243.5M459.32 235.5V243.5M460.72 235.5V243.5M462.12 235.5V243.5" stroke="#8080ff" stroke-width="0.3" fill="none"/>
<path d="M457.92 243.5V249.5M459.32 243.5V249.5M460.72 243.5V249.5M462.12 243.5V249.5" stroke="#8080ff" stroke-width="0.3" fill="none"/>
<rect x="453.22" y="235.5" width="2" height="19.65" fill="#e0e0ff"/>
<path d="M453.22 236L453.22 255.15" fill="none" stroke="#0808ff" stroke-width="1.1" stroke-linejoin="round"/>
<path d="M455.22 255.15L455.22 234.2" fill="none" stroke="#0808ff" stroke-width="1.1" stroke-linejoin="round"/>
<path d="M452.77 255.15L455.67 255.15L454.92 287L453.32 287Z" fill="#0000ff"/>
<path d="M455.32 233.5L455.32 236.5" fill="none" stroke="#0a0af4" stroke-width="1.5" stroke-linejoin="round"/>
<path d="M455.82 236L456.62 237.7L457.42 238.5" fill="none" stroke="#0a0af4" stroke-width="1.2" stroke-linejoin="round"/>
<rect x="467.33" y="243.5" width="5.1" height="7.5" fill="#1a1af8"/>
<rect x="467.33" y="251" width="5.4" height="5" fill="#4c4cff"/>
<path d="M468.03 244.5V251M469.43 244.5V251M470.83 244.5V251M472.23 244.5V251" stroke="#8080ff" stroke-width="0.3" fill="none"/>
<path d="M468.03 251V256M469.43 251V256M470.83 251V256M472.23 251V256" stroke="#8080ff" stroke-width="0.3" fill="none"/>
<rect x="463.33" y="244.5" width="2" height="10.65" fill="#e0e0ff"/>
<path d="M463.33 245L463.33 255.15" fill="none" stroke="#0808ff" stroke-width="1.1" stroke-linejoin="round"/>
<path d="M465.33 255.15L465.33 243.6" fill="none" stroke="#0808ff" stroke-width="1.1" stroke-linejoin="round"/>
<path d="M462.88 255.15L465.78 255.15L465.03 286.8L463.43 286.8Z" fill="#0000ff"/>
<path d="M465.43 242.9L465.43 245.5" fill="none" stroke="#0a0af4" stroke-width="1.5" stroke-linejoin="round"/>
<path d="M465.93 245L466.73 246.7L467.53 247.5" fill="none" stroke="#0a0af4" stroke-width="1.2" stroke-linejoin="round"/>
<path d="M473.34 256L473.64 291.74" fill="none" stroke="#0000ff" stroke-width="1.3" stroke-linejoin="round"/>
</g>
<g clip-path="url(#cr)">
<path d="M596.4 175.8L596.4 68" fill="none" stroke="#0000ff" stroke-width="1.1" stroke-linejoin="round"/>
<path d="M596.9 68.2L598.8 74L600.4 78.2L602.3 81L603.4 82L603.4 92.5L602.3 91.6L600.4 88.9L598.8 85.1L596.9 84Z" fill="#4848ff"/>
<path d="M597 68.5L597.6 72.5L597.9 71L598.5 75L598.8 73.5L599.4 77.5L599.7 76.2L600.3 79.5L600.6 78.3L601.2 81L601.5 79.8L602.1 82.5L602.4 81.3L603 83.5" fill="none" stroke="#0000ff" stroke-width="1.3" stroke-linejoin="round"/>
<path d="M607.5 80.42L613.2 80.75L613.2 82.25L607.5 81.92Z" fill="#6666ff"/>
<path d="M607.5 81.92L613.2 82.25L613.2 89.74L607.5 89.41Z" fill="#1a1aff"/>
<path d="M607.5 89.41L613.2 89.74L613.2 96.25L607.5 95.92Z" fill="#4848ff"/>
<path d="M613.2 85.45L614.05 85.5" fill="none" stroke="#0000ff" stroke-width="1.5" stroke-linejoin="round"/>
<path d="M604 84.9L604 111.6" fill="none" stroke="#0000ff" stroke-width="1.9" stroke-linejoin="round"/>
<path d="M603.7 111.1L603.7 121.6" fill="none" stroke="#0000ff" stroke-width="1.3" stroke-linejoin="round"/>
<path d="M605.7 68.1L605.7 98.7" fill="none" stroke="#0000ff" stroke-width="1.6" stroke-linejoin="round"/>
<path d="M605.7 84.9L607.5 85.12" fill="none" stroke="#0000ff" stroke-width="1.5" stroke-linejoin="round"/>
<path d="M617.85 80.86L623.55 81.19L623.55 82.69L617.85 82.36Z" fill="#6666ff"/>
<path d="M617.85 82.36L623.55 82.69L623.55 90.22L617.85 89.89Z" fill="#1a1aff"/>
<path d="M617.85 89.89L623.55 90.22L623.55 96.76L617.85 96.42Z" fill="#4848ff"/>
<path d="M623.55 85.89L624.39 85.94" fill="none" stroke="#0000ff" stroke-width="1.5" stroke-linejoin="round"/>
<path d="M614.35 85.33L614.35 113.5" fill="none" stroke="#0000ff" stroke-width="1.9" stroke-linejoin="round"/>
<path d="M614.05 113L614.05 123.5" fill="none" stroke="#0000ff" stroke-width="1.3" stroke-linejoin="round"/>
<path d="M616.05 68.6L616.05 99.2" fill="none" stroke="#0000ff" stroke-width="1.6" stroke-linejoin="round"/>
<path d="M616.05 85.33L617.85 85.56" fill="none" stroke="#0000ff" stroke-width="1.5" stroke-linejoin="round"/>
<path d="M628.19 81.29L633.89 81.64L633.89 83.14L628.19 82.79Z" fill="#6666ff"/>
<path d="M628.19 82.79L633.89 83.14L633.89 90.7L628.19 90.36Z" fill="#1a1aff"/>
<path d="M628.19 90.36L633.89 90.7L633.89 97.27L628.19 96.93Z" fill="#4848ff"/>
<path d="M633.89 86.34L634.74 86.39" fill="none" stroke="#0000ff" stroke-width="1.5" stroke-linejoin="round"/>
<path d="M624.69 85.77L624.69 114.7" fill="none" stroke="#0000ff" stroke-width="1.9" stroke-linejoin="round"/>
<path d="M624.39 114.2L624.39 124.7" fill="none" stroke="#0000ff" stroke-width="1.3" stroke-linejoin="round"/>
<path d="M626.39 68.6L626.39 99.7" fill="none" stroke="#0000ff" stroke-width="1.6" stroke-linejoin="round"/>
<path d="M626.39 85.77L628.19 85.99" fill="none" stroke="#0000ff" stroke-width="1.5" stroke-linejoin="round"/>
<path d="M638.53 81.73L644.24 82.08L644.24 83.58L638.53 83.23Z" fill="#6666ff"/>
<path d="M638.53 83.23L644.24 83.58L644.24 91.18L638.53 90.84Z" fill="#1a1aff"/>
<path d="M638.53 90.84L644.24 91.18L644.24 97.78L638.53 97.43Z" fill="#4848ff"/>
<path d="M644.24 86.78L645.08 86.83" fill="none" stroke="#0000ff" stroke-width="1.5" stroke-linejoin="round"/>
<path d="M635.03 86.2L635.03 115.4" fill="none" stroke="#0000ff" stroke-width="1.9" stroke-linejoin="round"/>
<path d="M634.74 114.9L634.74 125.4" fill="none" stroke="#0000ff" stroke-width="1.3" stroke-linejoin="round"/>
<path d="M636.74 69.4L636.74 100.2" fill="none" stroke="#0000ff" stroke-width="1.6" stroke-linejoin="round"/>
<path d="M636.74 86.2L638.53 86.43" fill="none" stroke="#0000ff" stroke-width="1.5" stroke-linejoin="round"/>
<path d="M648.88 82L654.58 82.35L654.58 83.85L648.88 83.5Z" fill="#6666ff"/>
<path d="M648.88 83.5L654.58 83.85L654.58 91.52L648.88 91.17Z" fill="#1a1aff"/>
<path d="M648.88 91.17L654.58 91.52L654.58 98.15L648.88 97.8Z" fill="#4848ff"/>
<path d="M654.58 87.05L655.43 87.11" fill="none" stroke="#0000ff" stroke-width="1.5" stroke-linejoin="round"/>
<path d="M645.38 86.47L645.38 115.8" fill="none" stroke="#0000ff" stroke-width="1.9" stroke-linejoin="round"/>
<path d="M645.08 115.3L645.08 125.8" fill="none" stroke="#0000ff" stroke-width="1.3" stroke-linejoin="round"/>
<path d="M647.08 69.4L647.08 100.57" fill="none" stroke="#0000ff" stroke-width="1.6" stroke-linejoin="round"/>
<path d="M647.08 86.47L648.88 86.7" fill="none" stroke="#0000ff" stroke-width="1.5" stroke-linejoin="round"/>
<path d="M659.23 82.27L664.93 82.63L664.93 84.13L659.23 83.77Z" fill="#6666ff"/>
<path d="M659.23 83.77L664.93 84.13L664.93 91.85L659.23 91.49Z" fill="#1a1aff"/>
<path d="M659.23 91.49L664.93 91.85L664.93 98.53L659.23 98.17Z" fill="#4848ff"/>
<path d="M664.93 87.33L665.77 87.38" fill="none" stroke="#0000ff" stroke-width="1.5" stroke-linejoin="round"/>
<path d="M655.73 86.73L655.73 116.2" fill="none" stroke="#0000ff" stroke-width="1.9" stroke-linejoin="round"/>
<path d="M655.43 115.7L655.43 126.2" fill="none" stroke="#0000ff" stroke-width="1.3" stroke-linejoin="round"/>
<path d="M657.43 69.9L657.43 100.93" fill="none" stroke="#0000ff" stroke-width="1.6" stroke-linejoin="round"/>
<path d="M657.43 86.73L659.23 86.97" fill="none" stroke="#0000ff" stroke-width="1.5" stroke-linejoin="round"/>
<path d="M669.57 82.54L675.27 82.91L675.27 84.41L669.57 84.04Z" fill="#6666ff"/>
<path d="M669.57 84.04L675.27 84.41L675.27 92.19L669.57 91.82Z" fill="#1a1aff"/>
<path d="M669.57 91.82L675.27 92.19L675.27 98.91L669.57 98.54Z" fill="#4848ff"/>
<path d="M675.27 87.61L676.12 87.66" fill="none" stroke="#0000ff" stroke-width="1.5" stroke-linejoin="round"/>
<path d="M666.07 87L666.07 116.7" fill="none" stroke="#0000ff" stroke-width="1.9" stroke-linejoin="round"/>
<path d="M665.77 116.2L665.77 126.7" fill="none" stroke="#0000ff" stroke-width="1.3" stroke-linejoin="round"/>
<path d="M667.77 70.4L667.77 101.3" fill="none" stroke="#0000ff" stroke-width="1.6" stroke-linejoin="round"/>
<path d="M667.77 87L669.57 87.24" fill="none" stroke="#0000ff" stroke-width="1.5" stroke-linejoin="round"/>
<path d="M679.91 82.85L685.62 83.22L685.62 84.72L679.91 84.35Z" fill="#6666ff"/>
<path d="M679.91 84.35L685.62 84.72L685.62 92.5L679.91 92.13Z" fill="#1a1aff"/>
<path d="M679.91 92.13L685.62 92.5L685.62 99.22L679.91 98.85Z" fill="#4848ff"/>
<path d="M685.62 87.92L686.46 87.97" fill="none" stroke="#0000ff" stroke-width="1.5" stroke-linejoin="round"/>
<path d="M676.41 87.3L676.41 117.3" fill="none" stroke="#0000ff" stroke-width="1.9" stroke-linejoin="round"/>
<path d="M676.12 116.8L676.12 127.3" fill="none" stroke="#0000ff" stroke-width="1.3" stroke-linejoin="round"/>
<path d="M678.12 70.8L678.12 101.6" fill="none" stroke="#0000ff" stroke-width="1.6" stroke-linejoin="round"/>
<path d="M678.12 87.3L679.91 87.55" fill="none" stroke="#0000ff" stroke-width="1.5" stroke-linejoin="round"/>
<path d="M690.26 83.35L695.96 83.72L695.96 85.22L690.26 84.85Z" fill="#6666ff"/>
<path d="M690.26 84.85L695.96 85.22L695.96 93.06L690.26 92.69Z" fill="#1a1aff"/>
<path d="M690.26 92.69L695.96 93.06L695.96 99.82L690.26 99.45Z" fill="#4848ff"/>
<path d="M695.96 88.42L696.81 88.48" fill="none" stroke="#0000ff" stroke-width="1.5" stroke-linejoin="round"/>
<path d="M686.76 87.8L686.76 117.8" fill="none" stroke="#0000ff" stroke-width="1.9" stroke-linejoin="round"/>
<path d="M686.46 117.3L686.46 127.8" fill="none" stroke="#0000ff" stroke-width="1.3" stroke-linejoin="round"/>
<path d="M688.46 71.2L688.46 102.2" fill="none" stroke="#0000ff" stroke-width="1.6" stroke-linejoin="round"/>
<path d="M688.46 87.8L690.26 88.05" fill="none" stroke="#0000ff" stroke-width="1.5" stroke-linejoin="round"/>
<path d="M700.61 83.95L706.31 84.33L706.31 85.83L700.61 85.45Z" fill="#6666ff"/>
<path d="M700.61 85.45L706.31 85.83L706.31 93.9L700.61 93.52Z" fill="#1a1aff"/>
<path d="M700.61 93.52L706.31 93.9L706.31 100.83L700.61 100.45Z" fill="#4848ff"/>
<path d="M706.31 89.03L707.15 89.09" fill="none" stroke="#0000ff" stroke-width="1.5" stroke-linejoin="round"/>
<path d="M697.11 88.4L697.11 118.2" fill="none" stroke="#0000ff" stroke-width="1.9" stroke-linejoin="round"/>
<path d="M696.81 117.7L696.81 128.2" fill="none" stroke="#0000ff" stroke-width="1.3" stroke-linejoin="round"/>
<path d="M698.81 71.7L698.81 103.2" fill="none" stroke="#0000ff" stroke-width="1.6" stroke-linejoin="round"/>
<path d="M698.81 88.4L700.61 88.65" fill="none" stroke="#0000ff" stroke-width="1.5" stroke-linejoin="round"/>
<path d="M710.95 84.46L716.65 84.84L716.65 86.34L710.95 85.96Z" fill="#6666ff"/>
<path d="M710.95 85.96L716.65 86.34L716.65 94.41L710.95 94.03Z" fill="#1a1aff"/>
<path d="M710.95 94.03L716.65 94.41L716.65 101.34L710.95 100.96Z" fill="#4848ff"/>
<path d="M716.65 89.54L717.5 89.6" fill="none" stroke="#0000ff" stroke-width="1.5" stroke-linejoin="round"/>
<path d="M707.45 88.9L707.45 118.6" fill="none" stroke="#0000ff" stroke-width="1.9" stroke-linejoin="round"/>
<path d="M707.15 118.1L707.15 128.6" fill="none" stroke="#0000ff" stroke-width="1.3" stroke-linejoin="round"/>
<path d="M709.15 72.6L709.15 103.7" fill="none" stroke="#0000ff" stroke-width="1.6" stroke-linejoin="round"/>
<path d="M709.15 88.9L710.95 89.16" fill="none" stroke="#0000ff" stroke-width="1.5" stroke-linejoin="round"/>
<path d="M721.29 85.76L727 86.15L727 87.65L721.29 87.26Z" fill="#6666ff"/>
<path d="M721.29 87.26L727 87.65L727 95.55L721.29 95.16Z" fill="#1a1aff"/>
<path d="M721.29 95.16L727 95.55L727 102.35L721.29 101.96Z" fill="#4848ff"/>
<path d="M727 90.85L727.84 90.91" fill="none" stroke="#0000ff" stroke-width="1.5" stroke-linejoin="round"/>
<path d="M717.79 90.2L717.79 119.3" fill="none" stroke="#0000ff" stroke-width="1.9" stroke-linejoin="round"/>
<path d="M717.5 118.8L717.5 129.3" fill="none" stroke="#0000ff" stroke-width="1.3" stroke-linejoin="round"/>
<path d="M719.5 74.2L719.5 104.7" fill="none" stroke="#0000ff" stroke-width="1.6" stroke-linejoin="round"/>
<path d="M719.5 90.2L721.29 90.46" fill="none" stroke="#0000ff" stroke-width="1.5" stroke-linejoin="round"/>
<path d="M731.64 86.76L737.34 87.16L737.34 88.66L731.64 88.26Z" fill="#6666ff"/>
<path d="M731.64 88.26L737.34 88.66L737.34 96.56L731.64 96.16Z" fill="#1a1aff"/>
<path d="M731.64 96.16L737.34 96.56L737.34 103.36L731.64 102.96Z" fill="#4848ff"/>
<path d="M737.34 91.86L738.19 91.92" fill="none" stroke="#0000ff" stroke-width="1.5" stroke-linejoin="round"/>
<path d="M728.14 91.2L728.14 120.6" fill="none" stroke="#0000ff" stroke-width="1.9" stroke-linejoin="round"/>
<path d="M727.84 120.1L727.84 130.6" fill="none" stroke="#0000ff" stroke-width="1.3" stroke-linejoin="round"/>
<path d="M729.84 75L729.84 105.7" fill="none" stroke="#0000ff" stroke-width="1.6" stroke-linejoin="round"/>
<path d="M729.84 91.2L731.64 91.46" fill="none" stroke="#0000ff" stroke-width="1.5" stroke-linejoin="round"/>
<path d="M741.99 88.07L747.69 88.47L747.69 89.97L741.99 89.57Z" fill="#6666ff"/>
<path d="M741.99 89.57L747.69 89.97L747.69 97.92L741.99 97.52Z" fill="#1a1aff"/>
<path d="M741.99 97.52L747.69 97.92L747.69 104.77L741.99 104.37Z" fill="#4848ff"/>
<path d="M747.69 93.17L748.53 93.23" fill="none" stroke="#0000ff" stroke-width="1.5" stroke-linejoin="round"/>
<path d="M738.49 92.5L738.49 121.6" fill="none" stroke="#0000ff" stroke-width="1.9" stroke-linejoin="round"/>
<path d="M738.19 121.1L738.19 131.6" fill="none" stroke="#0000ff" stroke-width="1.3" stroke-linejoin="round"/>
<path d="M740.19 75.8L740.19 107.1" fill="none" stroke="#0000ff" stroke-width="1.6" stroke-linejoin="round"/>
<path d="M740.19 92.5L741.99 92.77" fill="none" stroke="#0000ff" stroke-width="1.5" stroke-linejoin="round"/>
<path d="M752.33 89.47L758.03 89.88L758.03 91.38L752.33 90.97Z" fill="#6666ff"/>
<path d="M752.33 90.97L758.03 91.38L758.03 99.04L752.33 98.64Z" fill="#1a1aff"/>
<path d="M752.33 98.64L758.03 99.04L758.03 105.68L752.33 105.27Z" fill="#4848ff"/>
<path d="M758.03 94.58L758.88 94.64" fill="none" stroke="#0000ff" stroke-width="1.5" stroke-linejoin="round"/>
<path d="M748.83 93.9L748.83 122.8" fill="none" stroke="#0000ff" stroke-width="1.9" stroke-linejoin="round"/>
<path d="M748.53 122.3L748.53 132.8" fill="none" stroke="#0000ff" stroke-width="1.3" stroke-linejoin="round"/>
<path d="M750.53 77L750.53 108" fill="none" stroke="#0000ff" stroke-width="1.6" stroke-linejoin="round"/>
<path d="M750.53 93.9L752.33 94.17" fill="none" stroke="#0000ff" stroke-width="1.5" stroke-linejoin="round"/>
<path d="M762.67 89.98L768.38 90.39L768.38 91.89L762.67 91.48Z" fill="#6666ff"/>
<path d="M762.67 91.48L768.38 91.89L768.38 99.67L762.67 99.26Z" fill="#1a1aff"/>
<path d="M762.67 99.26L768.38 99.67L768.38 106.39L762.67 105.98Z" fill="#4848ff"/>
<path d="M768.38 95.09L769.22 95.15" fill="none" stroke="#0000ff" stroke-width="1.5" stroke-linejoin="round"/>
<path d="M759.17 94.4L759.17 123.5" fill="none" stroke="#0000ff" stroke-width="1.9" stroke-linejoin="round"/>
<path d="M758.88 123L758.88 133.5" fill="none" stroke="#0000ff" stroke-width="1.3" stroke-linejoin="round"/>
<path d="M760.88 77.7L760.88 108.7" fill="none" stroke="#0000ff" stroke-width="1.6" stroke-linejoin="round"/>
<path d="M760.88 94.4L762.67 94.68" fill="none" stroke="#0000ff" stroke-width="1.5" stroke-linejoin="round"/>
<path d="M773.02 90.78L778.72 91.2L778.72 92.7L773.02 92.28Z" fill="#6666ff"/>
<path d="M773.02 92.28L778.72 92.7L778.72 100.3L773.02 99.89Z" fill="#1a1aff"/>
<path d="M773.02 99.89L778.72 100.3L778.72 106.9L773.02 106.48Z" fill="#4848ff"/>
<path d="M778.72 95.9L779.57 95.96" fill="none" stroke="#0000ff" stroke-width="1.5" stroke-linejoin="round"/>
<path d="M769.52 95.2L769.52 124.4" fill="none" stroke="#0000ff" stroke-width="1.9" stroke-linejoin="round"/>
<path d="M769.22 123.9L769.22 134.4" fill="none" stroke="#0000ff" stroke-width="1.3" stroke-linejoin="round"/>
<path d="M771.22 78.3L771.22 109.2" fill="none" stroke="#0000ff" stroke-width="1.6" stroke-linejoin="round"/>
<path d="M771.22 95.2L773.02 95.48" fill="none" stroke="#0000ff" stroke-width="1.5" stroke-linejoin="round"/>
<path d="M783.37 91.28L789.07 91.71L789.07 93.21L783.37 92.78Z" fill="#6666ff"/>
<path d="M783.37 92.78L789.07 93.21L789.07 100.99L783.37 100.56Z" fill="#1a1aff"/>
<path d="M783.37 100.56L789.07 100.99L789.07 107.71L783.37 107.28Z" fill="#4848ff"/>
<path d="M789.07 96.41L789.91 96.47" fill="none" stroke="#0000ff" stroke-width="1.5" stroke-linejoin="round"/>
<path d="M779.87 95.7L779.87 125.4" fill="none" stroke="#0000ff" stroke-width="1.9" stroke-linejoin="round"/>
<path d="M779.57 124.9L779.57 135.4" fill="none" stroke="#0000ff" stroke-width="1.3" stroke-linejoin="round"/>
<path d="M781.57 78.3L781.57 110" fill="none" stroke="#0000ff" stroke-width="1.6" stroke-linejoin="round"/>
<path d="M781.57 95.7L783.37 95.98" fill="none" stroke="#0000ff" stroke-width="1.5" stroke-linejoin="round"/>
<path d="M793.71 91.49L799.41 91.92L799.41 93.42L793.71 92.99Z" fill="#6666ff"/>
<path d="M793.71 92.99L799.41 93.42L799.41 101.49L793.71 101.06Z" fill="#1a1aff"/>
<path d="M793.71 101.06L799.41 101.49L799.41 108.42L793.71 107.99Z" fill="#4848ff"/>
<path d="M799.41 96.62L800.26 96.68" fill="none" stroke="#0000ff" stroke-width="1.5" stroke-linejoin="round"/>
<path d="M790.21 95.9L790.21 126.3" fill="none" stroke="#0000ff" stroke-width="1.9" stroke-linejoin="round"/>
<path d="M789.91 125.8L789.91 136.3" fill="none" stroke="#0000ff" stroke-width="1.3" stroke-linejoin="round"/>
<path d="M791.91 78.7L791.91 110.7" fill="none" stroke="#0000ff" stroke-width="1.6" stroke-linejoin="round"/>
<path d="M791.91 95.9L793.71 96.19" fill="none" stroke="#0000ff" stroke-width="1.5" stroke-linejoin="round"/>
<path d="M804.06 91.79L809.76 92.23L809.76 93.73L804.06 93.29Z" fill="#6666ff"/>
<path d="M804.06 93.29L809.76 93.73L809.76 101.85L804.06 101.42Z" fill="#1a1aff"/>
<path d="M804.06 101.42L809.76 101.85L809.76 108.83L804.06 108.39Z" fill="#4848ff"/>
<path d="M809.76 96.93L810.6 96.99" fill="none" stroke="#0000ff" stroke-width="1.5" stroke-linejoin="round"/>
<path d="M800.56 96.2L800.56 126.6" fill="none" stroke="#0000ff" stroke-width="1.9" stroke-linejoin="round"/>
<path d="M800.26 126.1L800.26 136.6" fill="none" stroke="#0000ff" stroke-width="1.3" stroke-linejoin="round"/>
<path d="M802.26 79.3L802.26 111.1" fill="none" stroke="#0000ff" stroke-width="1.6" stroke-linejoin="round"/>
<path d="M802.26 96.2L804.06 96.49" fill="none" stroke="#0000ff" stroke-width="1.5" stroke-linejoin="round"/>
<path d="M814.4 92.19L820.1 92.63L820.1 94.13L814.4 93.69Z" fill="#6666ff"/>
<path d="M814.4 93.69L820.1 94.13L820.1 102.15L814.4 101.71Z" fill="#1a1aff"/>
<path d="M814.4 101.71L820.1 102.15L820.1 109.03L814.4 108.59Z" fill="#4848ff"/>
<path d="M820.1 97.33L820.95 97.4" fill="none" stroke="#0000ff" stroke-width="1.5" stroke-linejoin="round"/>
<path d="M810.9 96.6L810.9 127" fill="none" stroke="#0000ff" stroke-width="1.9" stroke-linejoin="round"/>
<path d="M810.6 126.5L810.6 137" fill="none" stroke="#0000ff" stroke-width="1.3" stroke-linejoin="round"/>
<path d="M812.6 79.9L812.6 111.3" fill="none" stroke="#0000ff" stroke-width="1.6" stroke-linejoin="round"/>
<path d="M812.6 96.6L814.4 96.89" fill="none" stroke="#0000ff" stroke-width="1.5" stroke-linejoin="round"/>
<path d="M824.75 92.61L830.45 93.07L830.45 94.57L824.75 94.11Z" fill="#6666ff"/>
<path d="M824.75 94.11L830.45 94.57L830.45 102.47L824.75 102Z" fill="#1a1aff"/>
<path d="M824.75 102L830.45 102.47L830.45 109.27L824.75 108.81Z" fill="#4848ff"/>
<path d="M830.45 97.77L831.29 97.84" fill="none" stroke="#0000ff" stroke-width="1.5" stroke-linejoin="round"/>
<path d="M821.25 97L821.25 127.4" fill="none" stroke="#0000ff" stroke-width="1.9" stroke-linejoin="round"/>
<path d="M820.95 126.9L820.95 137.4" fill="none" stroke="#0000ff" stroke-width="1.3" stroke-linejoin="round"/>
<path d="M822.95 80.3L822.95 111.5" fill="none" stroke="#0000ff" stroke-width="1.6" stroke-linejoin="round"/>
<path d="M822.95 97L824.75 97.31" fill="none" stroke="#0000ff" stroke-width="1.5" stroke-linejoin="round"/>
<path d="M835.09 93.42L840.79 93.91L840.79 95.41L835.09 94.92Z" fill="#6666ff"/>
<path d="M835.09 94.92L840.79 95.41L840.79 103.25L835.09 102.76Z" fill="#1a1aff"/>
<path d="M835.09 102.76L840.79 103.25L840.79 110.01L835.09 109.52Z" fill="#4848ff"/>
<path d="M840.79 98.61L841.64 98.68" fill="none" stroke="#0000ff" stroke-width="1.5" stroke-linejoin="round"/>
<path d="M831.59 97.8L831.59 128" fill="none" stroke="#0000ff" stroke-width="1.9" stroke-linejoin="round"/>
<path d="M831.29 127.5L831.29 138" fill="none" stroke="#0000ff" stroke-width="1.3" stroke-linejoin="round"/>
<path d="M833.29 80.5L833.29 112.2" fill="none" stroke="#0000ff" stroke-width="1.6" stroke-linejoin="round"/>
<path d="M833.29 97.8L835.09 98.12" fill="none" stroke="#0000ff" stroke-width="1.5" stroke-linejoin="round"/>
<path d="M845.43 94.04L851.13 94.54L851.13 96.04L845.43 95.54Z" fill="#6666ff"/>
<path d="M845.43 95.54L851.13 96.04L851.13 104.11L845.43 103.61Z" fill="#1a1aff"/>
<path d="M845.43 103.61L851.13 104.11L851.13 111.04L845.43 110.54Z" fill="#4848ff"/>
<path d="M851.13 99.24L851.98 99.32" fill="none" stroke="#0000ff" stroke-width="1.5" stroke-linejoin="round"/>
<path d="M841.93 98.4L841.93 129.6" fill="none" stroke="#0000ff" stroke-width="1.9" stroke-linejoin="round"/>
<path d="M841.63 129.1L841.63 139.6" fill="none" stroke="#0000ff" stroke-width="1.3" stroke-linejoin="round"/>
<path d="M843.63 81.2L843.63 113.2" fill="none" stroke="#0000ff" stroke-width="1.6" stroke-linejoin="round"/>
<path d="M843.63 98.4L845.43 98.74" fill="none" stroke="#0000ff" stroke-width="1.5" stroke-linejoin="round"/>
<path d="M855.78 94.55L861.48 95.08L861.48 96.58L855.78 96.05Z" fill="#6666ff"/>
<path d="M855.78 96.05L861.48 96.58L861.48 104.83L855.78 104.3Z" fill="#1a1aff"/>
<path d="M855.78 104.3L861.48 104.83L861.48 111.88L855.78 111.35Z" fill="#4848ff"/>
<path d="M861.48 99.78L862.33 99.86" fill="none" stroke="#0000ff" stroke-width="1.5" stroke-linejoin="round"/>
<path d="M852.28 98.9L852.28 131" fill="none" stroke="#0000ff" stroke-width="1.9" stroke-linejoin="round"/>
<path d="M851.98 130.5L851.98 141" fill="none" stroke="#0000ff" stroke-width="1.3" stroke-linejoin="round"/>
<path d="M853.98 81.9L853.98 114" fill="none" stroke="#0000ff" stroke-width="1.6" stroke-linejoin="round"/>
<path d="M853.98 98.9L855.78 99.25" fill="none" stroke="#0000ff" stroke-width="1.5" stroke-linejoin="round"/>
<path d="M866.12 95.57L871.83 96.12L871.83 97.62L866.12 97.07Z" fill="#6666ff"/>
<path d="M866.12 97.07L871.83 97.62L871.83 105.86L866.12 105.31Z" fill="#1a1aff"/>
<path d="M866.12 105.31L871.83 105.86L871.83 112.92L866.12 112.37Z" fill="#4848ff"/>
<path d="M871.83 100.82L872.67 100.9" fill="none" stroke="#0000ff" stroke-width="1.5" stroke-linejoin="round"/>
<path d="M862.62 99.9L862.62 132.3" fill="none" stroke="#0000ff" stroke-width="1.9" stroke-linejoin="round"/>
<path d="M862.33 131.8L862.33 142.3" fill="none" stroke="#0000ff" stroke-width="1.3" stroke-linejoin="round"/>
<path d="M864.33 83.1L864.33 115" fill="none" stroke="#0000ff" stroke-width="1.6" stroke-linejoin="round"/>
<path d="M864.33 99.9L866.12 100.27" fill="none" stroke="#0000ff" stroke-width="1.5" stroke-linejoin="round"/>
<path d="M876.47 96.88L882.17 97.46L882.17 98.96L876.47 98.38Z" fill="#6666ff"/>
<path d="M876.47 98.38L882.17 98.96L882.17 107.08L876.47 106.51Z" fill="#1a1aff"/>
<path d="M876.47 106.51L882.17 107.08L882.17 114.06L876.47 113.48Z" fill="#4848ff"/>
<path d="M882.17 102.16L883.02 102.24" fill="none" stroke="#0000ff" stroke-width="1.5" stroke-linejoin="round"/>
<path d="M872.97 101.2L872.97 133.5" fill="none" stroke="#0000ff" stroke-width="1.9" stroke-linejoin="round"/>
<path d="M872.67 133L872.67 143.5" fill="none" stroke="#0000ff" stroke-width="1.3" stroke-linejoin="round"/>
<path d="M874.67 83.9L874.67 116.1" fill="none" stroke="#0000ff" stroke-width="1.6" stroke-linejoin="round"/>
<path d="M874.67 101.2L876.47 101.58" fill="none" stroke="#0000ff" stroke-width="1.5" stroke-linejoin="round"/>
<path d="M886.82 98.2L892.52 98.79L892.52 100.29L886.82 99.7Z" fill="#6666ff"/>
<path d="M886.82 99.7L892.52 100.29L892.52 108.88L886.82 108.29Z" fill="#1a1aff"/>
<path d="M886.82 108.29L892.52 108.88L892.52 116.19L886.82 115.6Z" fill="#4848ff"/>
<path d="M892.52 103.49L893.36 103.58" fill="none" stroke="#0000ff" stroke-width="1.5" stroke-linejoin="round"/>
<path d="M883.32 102.5L883.32 134.8" fill="none" stroke="#0000ff" stroke-width="1.9" stroke-linejoin="round"/>
<path d="M883.02 134.3L883.02 144.8" fill="none" stroke="#0000ff" stroke-width="1.3" stroke-linejoin="round"/>
<path d="M885.02 84.9L885.02 118.2" fill="none" stroke="#0000ff" stroke-width="1.6" stroke-linejoin="round"/>
<path d="M885.02 102.5L886.82 102.9" fill="none" stroke="#0000ff" stroke-width="1.5" stroke-linejoin="round"/>
<path d="M897.16 100.31L902.86 100.93L902.86 102.43L897.16 101.81Z" fill="#6666ff"/>
<path d="M897.16 101.81L902.86 102.43L902.86 111.02L897.16 110.4Z" fill="#1a1aff"/>
<path d="M897.16 110.4L902.86 111.02L902.86 118.33L897.16 117.71Z" fill="#4848ff"/>
<path d="M902.86 105.63L903.71 105.72" fill="none" stroke="#0000ff" stroke-width="1.5" stroke-linejoin="round"/>
<path d="M893.66 104.6L893.66 136.5" fill="none" stroke="#0000ff" stroke-width="1.9" stroke-linejoin="round"/>
<path d="M893.36 136L893.36 146.5" fill="none" stroke="#0000ff" stroke-width="1.3" stroke-linejoin="round"/>
<path d="M895.36 86.2L895.36 120.3" fill="none" stroke="#0000ff" stroke-width="1.6" stroke-linejoin="round"/>
<path d="M895.36 104.6L897.16 105.01" fill="none" stroke="#0000ff" stroke-width="1.5" stroke-linejoin="round"/>
<path d="M907.5 101.73L913.21 102.37L913.21 103.87L907.5 103.23Z" fill="#6666ff"/>
<path d="M907.5 103.23L913.21 103.87L913.21 112.86L907.5 112.22Z" fill="#1a1aff"/>
<path d="M907.5 112.22L913.21 112.86L913.21 120.47L907.5 119.83Z" fill="#4848ff"/>
<path d="M913.21 107.07L914.05 107.16" fill="none" stroke="#0000ff" stroke-width="1.5" stroke-linejoin="round"/>
<path d="M904 106L904 138.5" fill="none" stroke="#0000ff" stroke-width="1.9" stroke-linejoin="round"/>
<path d="M903.71 138L903.71 148.5" fill="none" stroke="#0000ff" stroke-width="1.3" stroke-linejoin="round"/>
<path d="M905.71 87.8L905.71 122.4" fill="none" stroke="#0000ff" stroke-width="1.6" stroke-linejoin="round"/>
<path d="M905.71 106L907.5 106.43" fill="none" stroke="#0000ff" stroke-width="1.5" stroke-linejoin="round"/>
<path d="M917.85 103.84L923.55 104.5L923.55 106L917.85 105.34Z" fill="#6666ff"/>
<path d="M917.85 105.34L923.55 106L923.55 115L917.85 114.34Z" fill="#1a1aff"/>
<path d="M917.85 114.34L923.55 115L923.55 122.6L917.85 121.94Z" fill="#4848ff"/>
<path d="M923.55 109.2L924.4 109.3" fill="none" stroke="#0000ff" stroke-width="1.5" stroke-linejoin="round"/>
<path d="M914.35 108.1L914.35 140.8" fill="none" stroke="#0000ff" stroke-width="1.9" stroke-linejoin="round"/>
<path d="M914.05 140.3L914.05 150.8" fill="none" stroke="#0000ff" stroke-width="1.3" stroke-linejoin="round"/>
<path d="M916.05 90.1L916.05 124.5" fill="none" stroke="#0000ff" stroke-width="1.6" stroke-linejoin="round"/>
<path d="M916.05 108.1L917.85 108.54" fill="none" stroke="#0000ff" stroke-width="1.5" stroke-linejoin="round"/>
<path d="M928.19 106.76L933.89 107.46L933.89 108.96L928.19 108.26Z" fill="#6666ff"/>
<path d="M928.19 108.26L933.89 108.96L933.89 117.9L928.19 117.2Z" fill="#1a1aff"/>
<path d="M928.19 117.2L933.89 117.9L933.89 125.46L928.19 124.76Z" fill="#4848ff"/>
<path d="M933.89 112.16L934.74 112.26" fill="none" stroke="#0000ff" stroke-width="1.5" stroke-linejoin="round"/>
<path d="M924.69 111L924.69 143.5" fill="none" stroke="#0000ff" stroke-width="1.9" stroke-linejoin="round"/>
<path d="M924.39 143L924.39 153.5" fill="none" stroke="#0000ff" stroke-width="1.3" stroke-linejoin="round"/>
<path d="M926.39 92.1L926.39 127.3" fill="none" stroke="#0000ff" stroke-width="1.6" stroke-linejoin="round"/>
<path d="M926.39 111L928.19 111.46" fill="none" stroke="#0000ff" stroke-width="1.5" stroke-linejoin="round"/>
<path d="M938.54 109.68L944.24 110.41L944.24 111.91L938.54 111.18Z" fill="#6666ff"/>
<path d="M938.54 111.18L944.24 111.91L944.24 121.72L938.54 120.99Z" fill="#1a1aff"/>
<path d="M938.54 120.99L944.24 121.72L944.24 129.91L938.54 129.18Z" fill="#4848ff"/>
<path d="M944.24 115.11L945.09 115.22" fill="none" stroke="#0000ff" stroke-width="1.5" stroke-linejoin="round"/>
<path d="M935.04 113.9L935.04 147.7" fill="none" stroke="#0000ff" stroke-width="1.9" stroke-linejoin="round"/>
<path d="M934.74 147.2L934.74 157.7" fill="none" stroke="#0000ff" stroke-width="1.3" stroke-linejoin="round"/>
<path d="M936.74 94.7L936.74 131.7" fill="none" stroke="#0000ff" stroke-width="1.6" stroke-linejoin="round"/>
<path d="M936.74 113.9L938.54 114.38" fill="none" stroke="#0000ff" stroke-width="1.5" stroke-linejoin="round"/>
<path d="M948.88 113.91L954.59 114.67L954.59 116.17L948.88 115.41Z" fill="#6666ff"/>
<path d="M948.88 115.41L954.59 116.17L954.59 125.57L948.88 124.81Z" fill="#1a1aff"/>
<path d="M948.88 124.81L954.59 125.57L954.59 133.47L948.88 132.71Z" fill="#4848ff"/>
<path d="M954.59 119.37L955.43 119.48" fill="none" stroke="#0000ff" stroke-width="1.5" stroke-linejoin="round"/>
<path d="M945.38 118.1L945.38 151.6" fill="none" stroke="#0000ff" stroke-width="1.9" stroke-linejoin="round"/>
<path d="M945.09 151.1L945.09 161.6" fill="none" stroke="#0000ff" stroke-width="1.3" stroke-linejoin="round"/>
<path d="M947.09 98.6L947.09 135.2" fill="none" stroke="#0000ff" stroke-width="1.6" stroke-linejoin="round"/>
<path d="M947.09 118.1L948.88 118.61" fill="none" stroke="#0000ff" stroke-width="1.5" stroke-linejoin="round"/>
<path d="M959.23 116.13L964.93 116.92L964.93 118.42L959.23 117.63Z" fill="#6666ff"/>
<path d="M959.23 117.63L964.93 118.42L964.93 127.77L959.23 126.97Z" fill="#1a1aff"/>
<path d="M959.23 126.97L964.93 127.77L964.93 135.62L959.23 134.83Z" fill="#4848ff"/>
<path d="M964.93 121.62L965.78 121.74" fill="none" stroke="#0000ff" stroke-width="1.5" stroke-linejoin="round"/>
<path d="M955.73 120.3L955.73 155.5" fill="none" stroke="#0000ff" stroke-width="1.9" stroke-linejoin="round"/>
<path d="M955.43 155L955.43 165.5" fill="none" stroke="#0000ff" stroke-width="1.3" stroke-linejoin="round"/>
<path d="M957.43 100.8L957.43 137.3" fill="none" stroke="#0000ff" stroke-width="1.6" stroke-linejoin="round"/>
<path d="M957.43 120.3L959.23 120.83" fill="none" stroke="#0000ff" stroke-width="1.5" stroke-linejoin="round"/>
<path d="M969.58 117.45L975.28 118.28L975.28 119.78L969.58 118.95Z" fill="#6666ff"/>
<path d="M969.58 118.95L975.28 119.78L975.28 129.36L969.58 128.53Z" fill="#1a1aff"/>
<path d="M969.58 128.53L975.28 129.36L975.28 137.38L969.58 136.55Z" fill="#4848ff"/>
<path d="M975.28 122.98L976.12 123.1" fill="none" stroke="#0000ff" stroke-width="1.5" stroke-linejoin="round"/>
<path d="M966.08 121.6L966.08 159.4" fill="none" stroke="#0000ff" stroke-width="1.9" stroke-linejoin="round"/>
<path d="M965.78 158.9L965.78 169.4" fill="none" stroke="#0000ff" stroke-width="1.3" stroke-linejoin="round"/>
<path d="M967.78 102.8L967.78 139" fill="none" stroke="#0000ff" stroke-width="1.6" stroke-linejoin="round"/>
<path d="M967.78 121.6L969.58 122.15" fill="none" stroke="#0000ff" stroke-width="1.5" stroke-linejoin="round"/>
<path d="M978.32 121.01L985.87 125.17L985.87 126.67L978.32 122.51Z" fill="#6666ff"/>
<path d="M978.32 122.51L985.87 126.67L985.87 135.9L978.32 131.74Z" fill="#1a1aff"/>
<path d="M978.32 131.74L985.87 135.9L985.87 143.67L978.32 139.51Z" fill="#4848ff"/>
<path d="M985.87 129.87L986.47 130.2" fill="none" stroke="#0000ff" stroke-width="1.5" stroke-linejoin="round"/>
<path d="M976.42 124.5L976.42 164.2" fill="none" stroke="#0000ff" stroke-width="1.9" stroke-linejoin="round"/>
<path d="M976.12 163.7L976.12 174.2" fill="none" stroke="#0000ff" stroke-width="1.3" stroke-linejoin="round"/>
<path d="M978.12 105.8L978.12 141.3" fill="none" stroke="#0000ff" stroke-width="1.6" stroke-linejoin="round"/>
<path d="M978.12 124.5L978.32 125.71" fill="none" stroke="#0000ff" stroke-width="1.5" stroke-linejoin="round"/>
<path d="M988.67 136.39L996.21 145.29L996.21 146.79L988.67 137.89Z" fill="#6666ff"/>
<path d="M988.67 137.89L996.21 146.79L996.21 157.53L988.67 148.63Z" fill="#1a1aff"/>
<path d="M988.67 148.63L996.21 157.53L996.21 166.39L988.67 157.49Z" fill="#4848ff"/>
<path d="M996.21 149.99L996.81 150.7" fill="none" stroke="#0000ff" stroke-width="1.5" stroke-linejoin="round"/>
<path d="M986.77 138.5L986.77 177.2" fill="none" stroke="#0000ff" stroke-width="1.9" stroke-linejoin="round"/>
<path d="M986.47 176.7L986.47 187.2" fill="none" stroke="#0000ff" stroke-width="1.3" stroke-linejoin="round"/>
<path d="M988.47 120.9L988.47 157.9" fill="none" stroke="#0000ff" stroke-width="1.6" stroke-linejoin="round"/>
<path d="M988.47 138.5L988.67 141.09" fill="none" stroke="#0000ff" stroke-width="1.5" stroke-linejoin="round"/>
<path d="M999.01 165.49L1006.56 188.1L1006.56 189.6L999.01 166.99Z" fill="#6666ff"/>
<path d="M999.01 166.99L1006.56 189.6L1006.56 198.31L999.01 175.7Z" fill="#1a1aff"/>
<path d="M999.01 175.7L1006.56 198.31L1006.56 205.7L999.01 183.09Z" fill="#4848ff"/>
<path d="M1006.56 192.8L1007.16 194.6" fill="none" stroke="#0000ff" stroke-width="1.5" stroke-linejoin="round"/>
<path d="M997.11 163.6L997.11 211" fill="none" stroke="#0000ff" stroke-width="1.9" stroke-linejoin="round"/>
<path d="M996.81 210.5L996.81 221" fill="none" stroke="#0000ff" stroke-width="1.3" stroke-linejoin="round"/>
<path d="M998.81 150.6L998.81 179.5" fill="none" stroke="#0000ff" stroke-width="1.6" stroke-linejoin="round"/>
<path d="M998.81 163.6L999.01 170.19" fill="none" stroke="#0000ff" stroke-width="1.5" stroke-linejoin="round"/>
<path d="M1006.16 198L1006.56 312.55" fill="none" stroke="#0000ff" stroke-width="1.2" stroke-linejoin="round"/>
</g>
<path d="M67 15.95H486.2V334.4H67Z" fill="none" stroke="#111" stroke-width="1.5"/>
<path d="M72.4 334.4V328.4M129.49 334.4V328.4M186.57 334.4V328.4M243.66 334.4V328.4M300.74 334.4V328.4M357.83 334.4V328.4M414.92 334.4V328.4M472 334.4V328.4M100.94 334.4V331.4M158.03 334.4V331.4M215.12 334.4V331.4M272.2 334.4V331.4M329.29 334.4V331.4M386.37 334.4V331.4M443.46 334.4V331.4M67 281.13H73M67 228.1H73M67 175.06H73M67 122.03H73M67 69H73M67 307.65H70M67 254.62H70M67 201.58H70M67 148.55H70M67 95.51H70M67 42.48H70" fill="none" stroke="#111" stroke-width="1.5"/>
<text transform="translate(72.4 351.6) scale(1 1.09)" font-size="13.5" text-anchor="middle">0</text>
<text transform="translate(129.49 351.6) scale(1 1.09)" font-size="13.5" text-anchor="middle">2000</text>
<text transform="translate(186.57 351.6) scale(1 1.09)" font-size="13.5" text-anchor="middle">4000</text>
<text transform="translate(243.66 351.6) scale(1 1.09)" font-size="13.5" text-anchor="middle">6000</text>
<text transform="translate(300.74 351.6) scale(1 1.09)" font-size="13.5" text-anchor="middle">8000</text>
<text transform="translate(357.83 351.6) scale(1 1.09)" font-size="13.5" text-anchor="middle">10000</text>
<text transform="translate(414.92 351.6) scale(1 1.09)" font-size="13.5" text-anchor="middle">12000</text>
<text transform="translate(472 351.6) scale(1 1.09)" font-size="13.5" text-anchor="middle">14000</text>
<text transform="translate(60.4 338.67) scale(1 1.09)" font-size="13.5" text-anchor="end">-10</text>
<text transform="translate(60.4 285.63) scale(1 1.09)" font-size="13.5" text-anchor="end">-5</text>
<text transform="translate(60.4 231.7) scale(1 1.09)" font-size="13.5" text-anchor="end">0</text>
<text transform="translate(60.4 178.66) scale(1 1.09)" font-size="13.5" text-anchor="end">5</text>
<text transform="translate(60.4 125.63) scale(1 1.09)" font-size="13.5" text-anchor="end">10</text>
<text transform="translate(60.4 72.59) scale(1 1.09)" font-size="13.5" text-anchor="end">15</text>
<text transform="translate(60.4 19.56) scale(1 1.09)" font-size="13.5" text-anchor="end">20</text>
<path d="M590.6 11.7H1020V340.1H590.6Z" fill="none" stroke="#111" stroke-width="1.5"/>
<path d="M596.4 340.1V334.1M654.86 340.1V334.1M713.32 340.1V334.1M771.77 340.1V334.1M830.23 340.1V334.1M888.69 340.1V334.1M947.15 340.1V334.1M1005.61 340.1V334.1M625.63 340.1V337.1M684.09 340.1V337.1M742.54 340.1V337.1M801 340.1V337.1M859.46 340.1V337.1M917.92 340.1V337.1M976.38 340.1V337.1M590.6 285.2H596.6M590.6 230.5H596.6M590.6 175.8H596.6M590.6 121.1H596.6M590.6 66.4H596.6M590.6 312.55H593.6M590.6 257.85H593.6M590.6 203.15H593.6M590.6 148.45H593.6M590.6 93.75H593.6M590.6 39.05H593.6" fill="none" stroke="#111" stroke-width="1.5"/>
<text transform="translate(596.4 358.6) scale(1 1.09)" font-size="13.5" text-anchor="middle">0</text>
<text transform="translate(654.86 358.6) scale(1 1.09)" font-size="13.5" text-anchor="middle">2000</text>
<text transform="translate(713.32 358.6) scale(1 1.09)" font-size="13.5" text-anchor="middle">4000</text>
<text transform="translate(771.77 358.6) scale(1 1.09)" font-size="13.5" text-anchor="middle">6000</text>
<text transform="translate(830.23 358.6) scale(1 1.09)" font-size="13.5" text-anchor="middle">8000</text>
<text transform="translate(888.69 358.6) scale(1 1.09)" font-size="13.5" text-anchor="middle">10000</text>
<text transform="translate(947.15 358.6) scale(1 1.09)" font-size="13.5" text-anchor="middle">12000</text>
<text transform="translate(1005.61 358.6) scale(1 1.09)" font-size="13.5" text-anchor="middle">14000</text>
<text transform="translate(583.3 343.5) scale(1 1.09)" font-size="13.5" text-anchor="end">2.4</text>
<text transform="translate(583.3 288.8) scale(1 1.09)" font-size="13.5" text-anchor="end">2.6</text>
<text transform="translate(583.3 234.1) scale(1 1.09)" font-size="13.5" text-anchor="end">2.8</text>
<text transform="translate(583.3 179.4) scale(1 1.09)" font-size="13.5" text-anchor="end">3.0</text>
<text transform="translate(583.3 124.7) scale(1 1.09)" font-size="13.5" text-anchor="end">3.2</text>
<text transform="translate(583.3 70) scale(1 1.09)" font-size="13.5" text-anchor="end">3.4</text>
<text transform="translate(583.3 15.3) scale(1 1.09)" font-size="13.5" text-anchor="end">3.6</text>
<text x="276.6" y="377.9" font-size="16.5" text-anchor="middle">Time (s)</text>
<text x="805.5" y="384.9" font-size="16.5" text-anchor="middle">Time (s)</text>
<text transform="translate(1.6 16.9) scale(1 1.03)" font-size="16.5">(e)</text>
<text transform="translate(525.5 13.9) scale(1 1.03)" font-size="16.5">(f)</text>
<text transform="translate(17,181.6) rotate(-90)" font-size="16.5" text-anchor="middle">Ip (A)</text>
<text transform="translate(538.7,173.8) rotate(-90)" font-size="16.7" text-anchor="middle">U<tspan font-size="11" dy="3">T</tspan><tspan dy="-3"> (V)</tspan></text>
</svg></body></html>
